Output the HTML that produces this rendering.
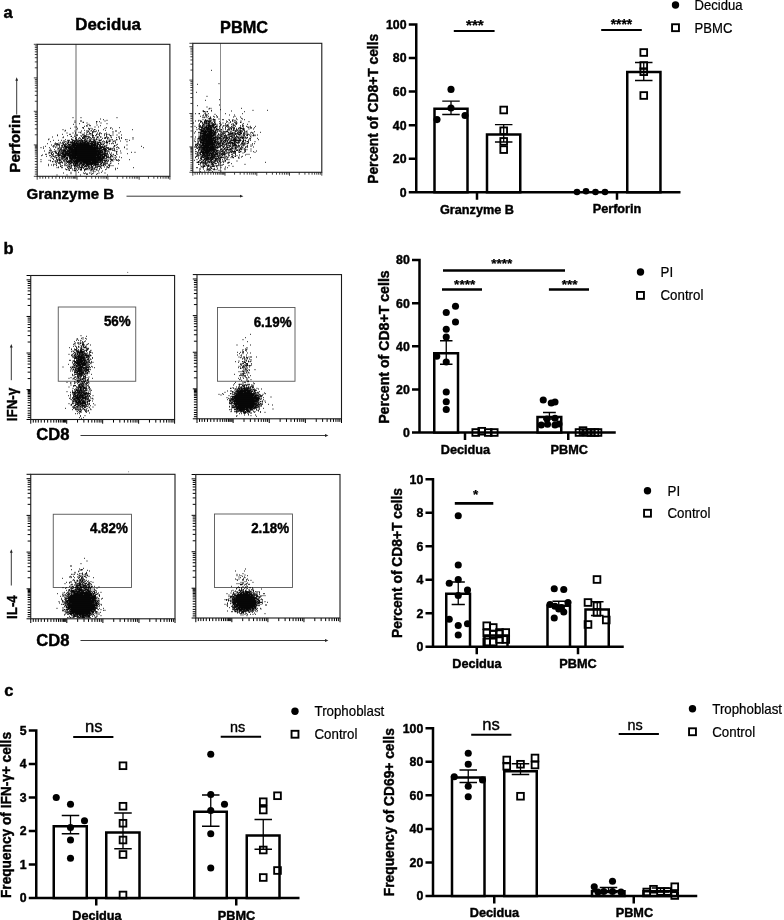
<!DOCTYPE html>
<html lang="en"><head><meta charset="utf-8"><title>Figure</title>
<style>html,body{margin:0;padding:0;background:#fff}svg{display:block}text{stroke:#000;stroke-width:.22px}text[font-weight="700"]{stroke-width:.42px}</style>
</head><body>
<svg width="784" height="920" viewBox="0 0 784 920" font-family='"Liberation Sans", sans-serif' fill="#000">
<rect width="784" height="920" fill="#fff"/>
<text x="3.6" y="17.6" font-size="16.5" font-weight="700">a</text>
<text x="3.6" y="253.8" font-size="16.5" font-weight="700">b</text>
<text x="4.2" y="695.8" font-size="16.5" font-weight="700">c</text>
<text x="108.1" y="30.2" font-size="16.9" font-weight="700" text-anchor="middle">Decidua</text>
<text x="244" y="33" font-size="16.3" font-weight="700" text-anchor="middle">PBMC</text>
<path d="M37.2 176.3v3.4M39.99 176.3v2.4M42.77 176.3v2.4M45.56 176.3v2.4M48.74 176.3v2.4M52.32 176.3v2.4M55.91 176.3v2.4M59.49 176.3v2.4M62.67 176.3v2.4M65.46 176.3v2.4M67.85 176.3v2.4M69.84 176.3v2.4M71.83 176.3v2.4M73.42 176.3v2.4M74.61 176.3v2.4M75.81 176.3v2.4M77 176.3v3.4M86.3 176.3v2.4M91.74 176.3v2.4M95.6 176.3v2.4M98.6 176.3v2.4M101.04 176.3v2.4M103.11 176.3v2.4M104.91 176.3v2.4M106.49 176.3v2.4M107.9 176.3v3.4M117.32 176.3v2.4M122.83 176.3v2.4M126.74 176.3v2.4M129.78 176.3v2.4M132.26 176.3v2.4M134.35 176.3v2.4M136.17 176.3v2.4M137.77 176.3v2.4M139.2 176.3v3.4M148.44 176.3v2.4M153.85 176.3v2.4M157.68 176.3v2.4M160.66 176.3v2.4M163.09 176.3v2.4M165.14 176.3v2.4M166.92 176.3v2.4M168.5 176.3v2.4M37.2 176.3h-3.4M37.2 174.1h-2.4M37.2 171.9h-2.4M37.2 169.71h-2.4M37.2 167.19h-2.4M37.2 164.37h-2.4M37.2 161.54h-2.4M37.2 158.72h-2.4M37.2 156.2h-2.4M37.2 154.01h-2.4M37.2 152.12h-2.4M37.2 150.55h-2.4M37.2 148.98h-2.4M37.2 147.73h-2.4M37.2 146.78h-2.4M37.2 145.84h-2.4M37.2 144.9h-3.4M37.2 134.79h-2.4M37.2 128.87h-2.4M37.2 124.67h-2.4M37.2 121.41h-2.4M37.2 118.75h-2.4M37.2 116.5h-2.4M37.2 114.56h-2.4M37.2 112.84h-2.4M37.2 111.3h-3.4M37.2 101.25h-2.4M37.2 95.36h-2.4M37.2 91.19h-2.4M37.2 87.95h-2.4M37.2 85.31h-2.4M37.2 83.07h-2.4M37.2 81.14h-2.4M37.2 79.43h-2.4M37.2 77.9h-3.4M37.2 67.82h-2.4M37.2 61.92h-2.4M37.2 57.73h-2.4M37.2 54.48h-2.4M37.2 51.83h-2.4M37.2 49.59h-2.4M37.2 47.65h-2.4M37.2 45.93h-2.4M169.9 176.3v3.4M37.2 44.3h-3.4" stroke="#000" stroke-width="0.75" fill="none"/>
<path d="M76 44.3V176.3" stroke="#8a8a8a" stroke-width="1.3"/>
<path id="p1" transform="scale(0.666667)" d="M109 176.5h1m11 0h1m53 0h1m-26 2h1m4 1h1m4 1h1m-49 1h1m7 0h1m1 0h1m34 0h1m-14 1h2m3 0h1m-38 1h1m11 0h2m4 1h1m13 0h1m6 0h1m-33 1h1m40 0h1m-51 1h1m22 0h1m-3 1h1m13 0h1m-17 1h1m4 0h2m14 0h1m-25 1h1m3 0h1m-19 1h1m1 0h1m27 0h1m4 0h1m-25 1h1m1 0h1m33 0h1m6 0h1m12 0h1m-75 1h1m10 0h1m8 0h1m6 0h1m3 0h1m20 0h1m7 0h1m-33 1h2m3 0h1m29 0h1m-75 1h1m20 0h1m18 0h1m6 0h2m12 0h1m42 0h1m-101 1h1m27 0h1m10 0h1m2 0h1m6 0h1m10 0h1m-62 1h1m14 0h1m9 0h1m6 0h1m1 0h2m3 0h1m7 0h1m2 0h1m25 0h2m-43 1h1m5 0h1m1 0h2m1 0h1m25 0h1m10 0h1m-68 1h1m4 0h1m1 0h1m10 0h1m2 0h1m3 0h2m-40 1h1m8 0h1m11 0h1m4 0h1m2 0h1m16 0h1m2 0h2m8 0h1m9 0h1m8 0h1m-66 1h1m20 0h3m1 0h1m10 0h1m2 0h1m4 0h1m-65 1h1m10 0h2m17 0h1m1 0h1m4 0h1m2 0h1m4 0h1m5 0h2m2 0h1m7 0h1m2 0h2m2 0h1m-78 1h1m25 0h1m1 0h1m1 0h1m9 0h1m2 0h1m6 0h1m1 0h1m5 0h1m4 0h1m14 0h1m4 0h1m5 0h1m6 0h1m-97 1h1m14 0h1m13 0h1m5 0h1m2 0h1m1 0h1m1 0h1m9 0h3m2 0h1m5 0h1m6 0h1m2 0h1m5 0h2m-61 1h2m3 0h1m10 0h1m2 0h2m1 0h2m1 0h2m6 0h1m19 0h1m-82 1h1m16 0h1m17 0h1m11 0h5m3 0h2m3 0h1m6 0h3m2 0h2m8 0h1m5 0h1m10 0h1m1 0h1m-86 1h1m14 0h1m4 0h1m4 0h1m3 0h2m1 0h1m5 0h1m2 0h1m2 0h1m1 0h2m4 0h1m10 0h2m1 0h1m1 0h1m4 0h1m6 0h1m7 0h1m16 0h1m-87 1h1m4 0h1m1 0h1m2 0h3m4 0h2m1 0h1m2 0h1m7 0h1m8 0h1m2 0h1m1 0h1m2 0h1m17 0h1m2 0h1m-110 1h1m33 0h1m5 0h2m2 0h1m8 0h3m8 0h1m2 0h2m6 0h1m12 0h1m1 0h1m15 0h1m19 0h1m-128 1h1m25 0h1m8 0h2m5 0h2m5 0h2m5 0h1m1 0h1m3 0h2m3 0h1m2 0h1m1 0h2m6 0h1m13 0h1m1 0h1m5 0h2m12 0h1m1 0h1m-111 1h1m6 0h1m4 0h1m8 0h2m1 0h1m4 0h2m1 0h1m2 0h1m2 0h3m1 0h3m1 0h2m2 0h1m2 0h1m1 0h1m4 0h3m5 0h4m12 0h1m29 0h1m-100 1h2m5 0h2m4 0h2m1 0h10m1 0h3m1 0h1m1 0h3m3 0h3m4 0h2m6 0h1m5 0h1m3 0h2m2 0h1m1 0h1m3 0h1m1 0h1m1 0h1m6 0h1m-106 1h1m22 0h1m1 0h1m1 0h1m3 0h1m1 0h1m2 0h2m3 0h2m2 0h1m1 0h3m2 0h4m2 0h2m1 0h5m1 0h2m1 0h1m7 0h1m2 0h1m2 0h1m3 0h2m5 0h1m19 0h1m-101 1h1m2 0h1m2 0h1m5 0h2m1 0h8m1 0h2m2 0h1m1 0h2m1 0h6m1 0h3m4 0h1m1 0h5m2 0h6m5 0h1m1 0h3m11 0h1m-91 1h1m4 0h1m5 0h2m4 0h3m4 0h1m1 0h1m1 0h2m1 0h9m1 0h1m1 0h2m1 0h1m1 0h5m1 0h3m2 0h1m1 0h1m1 0h1m7 0h1m4 0h1m1 0h1m6 0h1m4 0h1m-103 1h1m10 0h1m1 0h1m1 0h1m4 0h1m2 0h1m3 0h1m2 0h1m4 0h1m1 0h10m1 0h15m1 0h5m1 0h3m1 0h3m2 0h2m4 0h1m7 0h1m2 0h1m2 0h1m-88 1h2m1 0h2m1 0h1m4 0h2m1 0h1m1 0h1m2 0h4m2 0h6m1 0h19m2 0h8m2 0h3m2 0h2m1 0h2m20 0h1m-100 1h1m3 0h1m4 0h2m8 0h3m1 0h1m1 0h33m1 0h2m1 0h8m1 0h3m3 0h1m5 0h1m13 0h1m15 0h1m-111 1h1m3 0h1m4 0h1m2 0h3m1 0h2m3 0h1m2 0h1m2 0h37m1 0h2m2 0h2m6 0h1m1 0h1m11 0h2m-105 1h1m10 0h1m2 0h1m6 0h1m6 0h5m1 0h1m1 0h9m1 0h26m1 0h2m1 0h3m2 0h3m1 0h2m1 0h2m13 0h1m40 0h1m-148 1h1m14 0h1m4 0h1m6 0h3m1 0h11m2 0h36m1 0h2m1 0h1m1 0h2m1 0h1m1 0h2m1 0h1m10 0h1m5 0h1m9 0h1m-126 1h1m12 0h1m8 0h1m5 0h1m1 0h1m3 0h1m2 0h49m1 0h1m1 0h6m3 0h1m1 0h2m11 0h1m2 0h1m8 0h1m28 0h1m-151 1h1m21 0h2m3 0h1m4 0h3m2 0h8m1 0h41m3 0h4m2 0h1m1 0h1m1 0h2m2 0h1m1 0h1m6 0h1m-104 1h1m10 0h1m3 0h2m3 0h2m2 0h2m1 0h1m1 0h44m1 0h4m2 0h3m1 0h1m2 0h2m2 0h1m1 0h1m21 0h1m-110 1h1m6 0h1m1 0h1m1 0h1m1 0h1m1 0h1m1 0h1m1 0h1m2 0h42m1 0h1m1 0h2m3 0h7m3 0h4m4 0h1m3 0h1m-102 1h2m1 0h1m10 0h2m1 0h1m2 0h5m1 0h53m1 0h1m1 0h3m9 0h1m1 0h2m-106 1h1m16 0h1m1 0h1m5 0h8m2 0h2m1 0h1m1 0h43m1 0h4m2 0h7m9 0h1m7 0h1m-105 1h1m2 0h1m1 0h1m1 0h1m4 0h2m1 0h1m3 0h2m1 0h54m1 0h2m2 0h2m4 0h1m10 0h2m-103 1h2m3 0h1m4 0h2m2 0h2m4 0h3m1 0h3m1 0h1m1 0h52m1 0h2m16 0h1m22 0h1m4 0h1m-127 1h2m5 0h2m2 0h2m1 0h4m2 0h1m1 0h48m1 0h6m1 0h1m3 0h1m1 0h2m2 0h1m2 0h1m13 0h1m-109 1h1m3 0h1m2 0h1m3 0h1m1 0h3m3 0h4m1 0h9m1 0h44m2 0h1m1 0h5m1 0h1m12 0h1m16 0h1m-124 1h2m7 0h1m1 0h1m6 0h3m1 0h1m2 0h7m1 0h57m1 0h1m1 0h1m3 0h2m3 0h1m4 0h1m-113 1h1m14 0h2m8 0h2m1 0h1m3 0h9m1 0h47m1 0h2m1 0h3m3 0h1m6 0h1m-108 1h1m11 0h2m7 0h2m1 0h5m1 0h2m1 0h4m1 0h49m1 0h4m2 0h5m5 0h2m4 0h2m-105 1h1m7 0h1m1 0h2m1 0h1m4 0h1m4 0h7m1 0h1m2 0h11m1 0h29m1 0h7m1 0h5m1 0h2m1 0h1m2 0h2m1 0h1m-87 1h1m5 0h1m3 0h6m5 0h4m1 0h45m1 0h3m2 0h1m1 0h2m3 0h1m2 0h1m4 0h1m4 0h1m-104 1h1m5 0h1m1 0h2m3 0h1m1 0h1m2 0h1m1 0h2m1 0h3m2 0h48m1 0h4m2 0h1m1 0h2m1 0h2m6 0h1m9 0h1m-105 1h1m5 0h1m3 0h1m3 0h2m1 0h1m1 0h1m1 0h3m2 0h53m1 0h2m13 0h1m-94 1h1m7 0h1m2 0h1m1 0h1m4 0h4m2 0h5m1 0h4m1 0h30m1 0h5m1 0h2m9 0h1m1 0h2m3 0h1m-110 1h1m18 0h1m3 0h1m1 0h1m1 0h2m1 0h1m2 0h1m1 0h1m1 0h1m2 0h1m4 0h4m1 0h1m2 0h41m2 0h1m2 0h1m5 0h3m3 0h1m1 0h1m2 0h1m16 0h1m-122 1h1m1 0h1m10 0h1m1 0h3m4 0h1m1 0h1m1 0h1m3 0h5m1 0h2m1 0h42m1 0h3m1 0h2m1 0h1m4 0h2m5 0h1m1 0h1m2 0h1m-105 1h1m6 0h2m1 0h2m2 0h1m1 0h1m3 0h2m2 0h2m1 0h1m2 0h1m2 0h37m1 0h2m2 0h2m1 0h1m2 0h4m2 0h1m3 0h1m2 0h1m7 0h1m-117 1h1m16 0h2m5 0h1m6 0h1m4 0h1m2 0h8m2 0h11m1 0h15m1 0h10m1 0h2m1 0h2m4 0h1m2 0h1m3 0h1m-83 1h1m1 0h1m3 0h2m1 0h2m3 0h1m2 0h2m1 0h2m1 0h4m1 0h2m1 0h4m2 0h3m1 0h27m2 0h2m2 0h1m2 0h1m-74 1h2m1 0h1m2 0h1m8 0h4m1 0h1m2 0h7m1 0h3m1 0h11m1 0h13m4 0h2m1 0h1m1 0h2m8 0h1m-83 1h1m4 0h1m7 0h1m1 0h1m5 0h2m2 0h2m1 0h5m1 0h1m1 0h3m2 0h2m1 0h16m1 0h1m1 0h1m3 0h2m2 0h1m2 0h2m1 0h1m3 0h1m11 0h1m-106 1h1m7 0h1m1 0h1m7 0h1m6 0h1m6 0h1m1 0h1m3 0h1m1 0h3m1 0h1m2 0h1m1 0h1m1 0h5m1 0h11m1 0h8m1 0h2m3 0h2m7 0h1m-88 1h1m6 0h1m12 0h1m3 0h2m1 0h1m5 0h2m1 0h1m2 0h4m1 0h1m1 0h3m3 0h4m1 0h1m1 0h2m2 0h2m1 0h4m7 0h2m1 0h2m3 0h1m-91 1h1m7 0h1m3 0h1m6 0h1m1 0h1m3 0h1m1 0h1m6 0h2m1 0h1m1 0h4m1 0h1m1 0h1m3 0h1m1 0h2m1 0h2m1 0h3m3 0h2m2 0h1m1 0h2m4 0h1m2 0h2m1 0h2m7 0h2m1 0h1m2 0h1m-80 1h2m10 0h1m1 0h1m2 0h1m3 0h2m1 0h1m1 0h1m1 0h2m2 0h2m2 0h5m1 0h1m1 0h1m2 0h2m4 0h1m2 0h5m9 0h1m3 0h1m-78 1h1m13 0h1m1 0h3m15 0h1m1 0h1m2 0h1m2 0h1m2 0h2m2 0h4m4 0h2m5 0h1m4 0h1m4 0h1m-77 1h1m1 0h1m4 0h2m7 0h1m5 0h1m4 0h1m3 0h2m1 0h5m1 0h1m7 0h1m2 0h1m1 0h1m3 0h2m2 0h1m3 0h1m9 0h1m1 0h2m36 0h1m-99 1h1m2 0h2m4 0h2m9 0h1m2 0h1m2 0h1m1 0h2m1 0h2m1 0h1m2 0h1m1 0h1m7 0h1m2 0h1m20 0h1m2 0h1m-79 1h1m3 0h1m1 0h1m3 0h1m2 0h1m2 0h1m2 0h2m2 0h2m4 0h1m1 0h2m6 0h3m1 0h1m3 0h1m13 0h1m-61 1h2m19 0h3m3 0h3m1 0h1m2 0h1m2 0h2m1 0h1m2 0h1m1 0h1m4 0h1m8 0h1m14 0h1m-71 1h2m4 0h1m1 0h3m2 0h1m4 0h1m4 0h1m9 0h1m8 0h1m-34 1h1m13 0h1m9 0h1m2 0h2m6 0h1m5 0h1m-12 1h1m-37 1h1m10 0h1m34 0h1m-58 1h1m29 0h1m2 0h1m5 0h1m1 0h1m3 0h1m7 0h1m8 0h1m-52 1h1m19 0h1m3 0h1m7 0h1m7 0h1m-18 1h1m1 0h1m5 0h1m6 0h1m-60 1h1m14 0h1m19 0h1m40 0h1" stroke="#000" stroke-width="1.2" fill="none"/><use href="#p1"/>
<rect x="37.2" y="44.3" width="132.7" height="132" fill="none" stroke="#1a1a1a" stroke-width="1.1"/>
<path d="M192.8 172.3v3.4M195.05 172.3v2.4M197.31 172.3v2.4M199.56 172.3v2.4M202.14 172.3v2.4M205.04 172.3v2.4M207.93 172.3v2.4M210.83 172.3v2.4M213.41 172.3v2.4M215.66 172.3v2.4M217.59 172.3v2.4M219.2 172.3v2.4M220.81 172.3v2.4M222.1 172.3v2.4M223.07 172.3v2.4M224.03 172.3v2.4M225 172.3v3.4M234.57 172.3v2.4M240.17 172.3v2.4M244.15 172.3v2.4M247.23 172.3v2.4M249.75 172.3v2.4M251.87 172.3v2.4M253.72 172.3v2.4M255.34 172.3v2.4M256.8 172.3v3.4M266.64 172.3v2.4M272.4 172.3v2.4M276.49 172.3v2.4M279.66 172.3v2.4M282.25 172.3v2.4M284.43 172.3v2.4M286.33 172.3v2.4M288 172.3v2.4M289.5 172.3v3.4M299.22 172.3v2.4M304.91 172.3v2.4M308.95 172.3v2.4M312.08 172.3v2.4M314.63 172.3v2.4M316.8 172.3v2.4M318.67 172.3v2.4M320.32 172.3v2.4M192.8 172.3h-3.4M192.8 170.52h-2.4M192.8 168.74h-2.4M192.8 166.97h-2.4M192.8 164.93h-2.4M192.8 162.65h-2.4M192.8 160.36h-2.4M192.8 158.08h-2.4M192.8 156.04h-2.4M192.8 154.27h-2.4M192.8 152.74h-2.4M192.8 151.47h-2.4M192.8 150.2h-2.4M192.8 149.19h-2.4M192.8 148.42h-2.4M192.8 147.66h-2.4M192.8 146.9h-3.4M192.8 136.85h-2.4M192.8 130.96h-2.4M192.8 126.79h-2.4M192.8 123.55h-2.4M192.8 120.91h-2.4M192.8 118.67h-2.4M192.8 116.74h-2.4M192.8 115.03h-2.4M192.8 113.5h-3.4M192.8 103.45h-2.4M192.8 97.56h-2.4M192.8 93.39h-2.4M192.8 90.15h-2.4M192.8 87.51h-2.4M192.8 85.27h-2.4M192.8 83.34h-2.4M192.8 81.63h-2.4M192.8 80.1h-3.4M192.8 70.05h-2.4M192.8 64.16h-2.4M192.8 59.99h-2.4M192.8 56.75h-2.4M192.8 54.11h-2.4M192.8 51.87h-2.4M192.8 49.94h-2.4M192.8 48.23h-2.4M192.8 46.7h-3.4M321.8 172.3v3.4M192.8 43.3h-3.4" stroke="#000" stroke-width="0.75" fill="none"/>
<path d="M220.5 43.3V172.3" stroke="#8c8c8c" stroke-width="1.0"/>
<path id="p2" transform="scale(0.666667)" d="M317 105.5h1m10 20h1m-33 1h1m-3 12h1m15 6h1m18 5h1m-22 1h1m20 7h1m-34 1h1m13 2h1m3 2h1m1 0h1m45 0h1m-50 1h1m16 1h1m-14 1h1m61 0h1m21 0h1m-98 1h2m11 0h1m29 0h1m-43 1h3m2 0h2m54 0h1m-59 2h1m-16 1h1m4 0h2m7 0h1m4 0h1m25 0h1m24 0h1m-56 1h1m1 0h1m11 0h1m-18 1h1m3 0h1m34 0h1m6 0h1m-48 1h1m3 0h1m1 0h1m13 0h1m-25 1h1m8 0h1m2 0h1m7 0h1m31 0h1m-49 1h1m2 0h1m7 0h1m5 0h1m3 0h2m23 0h1m9 0h1m-57 1h1m1 0h1m3 0h1m4 0h1m-3 1h4m37 0h1m7 0h1m-50 1h2m5 0h1m7 0h1m34 0h1m-60 1h1m3 0h1m7 0h1m2 0h4m10 0h1m1 0h1m7 0h1m5 0h1m5 0h1m10 0h1m-69 1h1m8 0h3m1 0h1m2 0h1m1 0h1m5 0h1m21 0h1m3 0h1m3 0h1m-60 1h1m3 0h1m2 0h2m5 0h3m1 0h3m1 0h2m3 0h2m17 0h1m8 0h2m2 0h1m8 0h1m-61 1h2m3 0h2m1 0h2m1 0h4m6 0h1m6 0h1m11 0h1m3 0h1m8 0h1m18 0h1m-74 1h1m2 0h1m2 0h2m1 0h1m4 0h1m2 0h2m2 0h2m16 0h1m5 0h1m5 0h1m1 0h1m6 0h2m-72 1h1m13 0h1m1 0h4m1 0h5m5 0h1m8 0h1m3 0h1m8 0h1m10 0h2m-57 1h1m3 0h1m3 0h1m1 0h2m1 0h2m3 0h2m1 0h1m2 0h1m5 0h1m8 0h1m10 0h1m3 0h2m10 0h1m-62 1h2m1 0h1m2 0h1m1 0h1m1 0h1m1 0h1m1 0h6m1 0h1m5 0h1m15 0h1m2 0h1m3 0h1m8 0h1m7 0h1m-74 1h2m5 0h2m3 0h1m1 0h3m3 0h1m1 0h1m10 0h1m6 0h1m1 0h3m6 0h1m2 0h1m-53 1h1m2 0h2m2 0h1m1 0h1m1 0h11m3 0h1m4 0h1m4 0h1m1 0h1m2 0h2m8 0h2m8 0h1m2 0h1m1 0h1m-74 1h1m5 0h3m2 0h1m1 0h1m3 0h2m1 0h5m1 0h1m1 0h1m2 0h3m3 0h1m4 0h1m4 0h1m2 0h1m4 0h1m1 0h1m3 0h1m9 0h1m5 0h1m5 0h1m7 0h1m-84 1h1m1 0h2m2 0h5m1 0h9m1 0h2m1 0h1m3 0h1m8 0h1m2 0h1m1 0h1m3 0h1m12 0h1m4 0h1m5 0h1m1 0h1m-80 1h1m4 0h1m1 0h4m2 0h7m1 0h3m2 0h4m9 0h1m4 0h1m4 0h1m1 0h1m2 0h1m1 0h2m7 0h2m11 0h1m2 0h1m1 0h1m3 0h1m-84 1h1m3 0h1m1 0h4m1 0h7m1 0h1m3 0h1m2 0h2m3 0h1m8 0h1m7 0h2m2 0h2m2 0h1m2 0h2m1 0h4m1 0h1m10 0h1m-79 1h1m4 0h2m1 0h1m1 0h1m1 0h3m1 0h5m1 0h2m12 0h1m7 0h3m1 0h2m2 0h2m8 0h1m3 0h3m6 0h1m6 0h1m-86 1h1m3 0h4m2 0h3m1 0h9m4 0h1m1 0h5m2 0h2m5 0h1m2 0h1m1 0h1m3 0h1m2 0h1m3 0h2m2 0h1m5 0h2m-65 1h5m1 0h2m1 0h3m1 0h7m2 0h1m1 0h1m17 0h1m5 0h2m1 0h1m3 0h1m1 0h1m1 0h2m2 0h1m1 0h1m-66 1h10m1 0h7m1 0h1m1 0h2m1 0h1m2 0h2m1 0h1m2 0h1m5 0h2m4 0h1m5 0h4m3 0h1m2 0h1m3 0h1m3 0h1m-78 1h1m7 0h17m1 0h3m1 0h1m2 0h1m4 0h1m3 0h2m1 0h4m4 0h1m6 0h1m3 0h1m2 0h2m1 0h1m3 0h1m1 0h1m11 0h1m-85 1h1m1 0h2m1 0h1m2 0h6m1 0h8m1 0h3m1 0h1m6 0h1m4 0h1m4 0h2m1 0h1m3 0h1m2 0h1m3 0h1m1 0h4m4 0h1m3 0h1m6 0h1m12 0h1m-100 1h1m6 0h1m1 0h2m1 0h7m1 0h1m1 0h12m8 0h3m1 0h1m4 0h1m4 0h3m1 0h1m4 0h2m4 0h1m2 0h1m1 0h1m7 0h1m2 0h2m-80 1h9m1 0h9m1 0h3m4 0h1m3 0h1m2 0h1m1 0h1m7 0h6m2 0h3m1 0h1m1 0h1m1 0h3m2 0h2m3 0h1m-70 1h1m2 0h14m1 0h5m3 0h2m3 0h1m1 0h1m3 0h1m3 0h4m3 0h1m2 0h2m1 0h1m1 0h4m4 0h1m1 0h1m3 0h2m7 0h1m-83 1h1m1 0h2m1 0h1m1 0h17m3 0h1m2 0h1m1 0h1m1 0h2m1 0h1m5 0h1m1 0h1m2 0h3m1 0h2m6 0h2m4 0h1m1 0h1m2 0h1m1 0h1m2 0h1m1 0h1m5 0h1m3 0h1m-87 1h1m1 0h20m1 0h1m2 0h1m1 0h1m2 0h1m4 0h4m3 0h1m5 0h1m1 0h1m2 0h1m6 0h1m3 0h2m3 0h2m7 0h2m1 0h1m-84 1h2m1 0h18m3 0h1m1 0h1m5 0h2m1 0h1m1 0h1m2 0h1m3 0h1m1 0h4m2 0h1m2 0h2m8 0h1m10 0h1m-83 1h1m3 0h1m2 0h4m1 0h3m1 0h10m1 0h2m1 0h2m1 0h3m2 0h1m1 0h1m3 0h4m3 0h1m2 0h1m2 0h1m1 0h1m2 0h3m1 0h1m1 0h2m1 0h1m1 0h1m1 0h1m7 0h1m-78 1h3m1 0h15m1 0h6m1 0h1m1 0h3m4 0h3m1 0h1m1 0h2m1 0h1m3 0h2m2 0h2m1 0h1m1 0h1m2 0h2m1 0h3m2 0h1m1 0h2m-75 1h5m1 0h20m2 0h2m1 0h3m1 0h1m1 0h2m1 0h1m1 0h3m1 0h2m2 0h1m3 0h2m4 0h1m1 0h1m1 0h1m1 0h2m2 0h1m1 0h1m4 0h2m10 0h1m-95 1h1m3 0h2m3 0h3m1 0h6m1 0h9m1 0h2m1 0h3m3 0h1m2 0h1m3 0h1m1 0h1m4 0h1m3 0h2m1 0h4m2 0h1m6 0h1m9 0h1m-77 1h20m1 0h1m1 0h3m1 0h1m1 0h1m2 0h1m2 0h1m3 0h2m2 0h2m3 0h1m2 0h4m5 0h2m4 0h1m7 0h1m13 0h1m-90 1h1m2 0h23m2 0h1m4 0h3m2 0h4m1 0h1m1 0h1m2 0h16m2 0h2m1 0h2m3 0h1m2 0h1m-85 1h1m4 0h1m2 0h8m1 0h12m1 0h2m1 0h1m3 0h1m1 0h1m4 0h1m2 0h1m2 0h1m3 0h2m3 0h1m1 0h1m2 0h1m2 0h3m4 0h1m2 0h1m-76 1h1m3 0h1m2 0h2m2 0h16m1 0h4m1 0h2m3 0h2m1 0h2m1 0h2m1 0h2m2 0h2m5 0h3m3 0h1m5 0h3m4 0h3m9 0h1m-86 1h1m2 0h7m1 0h16m1 0h2m1 0h1m2 0h1m4 0h2m2 0h1m2 0h2m1 0h4m1 0h1m2 0h2m1 0h1m1 0h1m3 0h1m8 0h1m-77 1h1m3 0h20m1 0h4m1 0h2m1 0h3m1 0h3m5 0h3m1 0h5m1 0h3m1 0h4m3 0h1m2 0h2m1 0h1m3 0h1m-77 1h2m5 0h18m1 0h1m1 0h1m1 0h4m1 0h1m1 0h2m2 0h1m1 0h2m1 0h1m1 0h2m2 0h4m10 0h3m1 0h1m3 0h2m6 0h1m2 0h1m-89 1h3m2 0h2m1 0h1m1 0h3m1 0h16m1 0h1m1 0h3m4 0h1m1 0h1m2 0h3m8 0h1m1 0h3m7 0h1m2 0h1m2 0h1m-75 1h1m2 0h1m1 0h1m1 0h2m1 0h20m1 0h1m2 0h1m1 0h3m1 0h2m1 0h2m4 0h1m2 0h2m1 0h2m1 0h4m2 0h1m3 0h1m2 0h3m9 0h1m1 0h1m-86 1h1m1 0h2m2 0h1m1 0h15m1 0h3m1 0h1m1 0h3m2 0h1m2 0h2m6 0h1m1 0h1m1 0h2m4 0h3m1 0h3m1 0h1m1 0h1m4 0h1m6 0h1m-78 1h1m5 0h3m2 0h9m1 0h7m1 0h1m2 0h1m2 0h2m2 0h1m1 0h2m2 0h1m5 0h2m2 0h1m2 0h1m4 0h1m1 0h1m2 0h1m7 0h1m5 0h1m-86 1h1m1 0h2m2 0h3m3 0h22m1 0h5m4 0h1m3 0h1m1 0h1m1 0h2m3 0h2m3 0h4m5 0h1m1 0h1m3 0h1m1 0h2m8 0h1m-86 1h1m2 0h24m1 0h5m6 0h2m2 0h1m1 0h3m4 0h1m4 0h2m4 0h1m2 0h1m1 0h1m4 0h1m-74 1h2m2 0h1m2 0h20m1 0h1m2 0h1m9 0h2m2 0h1m5 0h1m1 0h2m2 0h3m5 0h2m-64 1h1m1 0h2m2 0h4m1 0h3m1 0h10m1 0h1m6 0h3m2 0h2m3 0h1m2 0h4m1 0h1m3 0h1m4 0h1m3 0h1m1 0h1m1 0h2m8 0h1m-84 1h1m4 0h2m2 0h22m6 0h1m1 0h1m2 0h1m1 0h1m1 0h4m1 0h3m5 0h1m2 0h1m3 0h2m1 0h1m5 0h1m1 0h1m-74 1h2m2 0h3m1 0h17m1 0h5m3 0h1m1 0h1m4 0h2m3 0h1m3 0h2m5 0h3m1 0h2m7 0h1m-67 1h2m1 0h13m1 0h1m1 0h3m1 0h1m1 0h1m2 0h1m3 0h3m2 0h1m4 0h1m1 0h1m5 0h2m13 0h1m1 0h1m7 0h1m7 0h1m-92 1h2m2 0h1m3 0h5m1 0h8m1 0h2m1 0h4m1 0h2m2 0h1m2 0h3m2 0h1m2 0h1m5 0h1m1 0h7m4 0h1m1 0h2m6 0h1m11 0h1m-85 1h1m2 0h15m1 0h1m2 0h3m1 0h2m2 0h1m1 0h1m6 0h3m3 0h2m1 0h1m1 0h2m5 0h1m4 0h2m6 0h1m15 0h1m-87 1h2m2 0h1m2 0h15m1 0h1m1 0h1m1 0h3m1 0h1m1 0h2m2 0h2m1 0h1m2 0h1m4 0h1m4 0h4m11 0h1m-72 1h1m1 0h1m3 0h2m2 0h4m1 0h5m1 0h7m2 0h4m2 0h1m2 0h2m1 0h2m1 0h1m1 0h1m1 0h1m10 0h1m-58 1h1m3 0h2m2 0h4m1 0h3m1 0h2m1 0h3m1 0h7m1 0h1m2 0h2m1 0h4m9 0h2m4 0h1m16 0h1m2 0h1m-79 1h1m1 0h2m1 0h1m1 0h2m1 0h4m2 0h4m1 0h6m1 0h1m2 0h1m2 0h1m3 0h2m1 0h2m4 0h2m9 0h1m5 0h1m8 0h1m-73 1h1m1 0h1m4 0h4m1 0h8m1 0h3m1 0h2m2 0h1m1 0h1m1 0h1m1 0h1m1 0h1m10 0h1m4 0h1m5 0h1m-62 1h2m6 0h2m2 0h6m4 0h8m1 0h2m1 0h1m8 0h1m1 0h1m7 0h2m3 0h2m9 0h1m-71 1h1m3 0h1m2 0h1m1 0h4m1 0h1m3 0h4m1 0h2m1 0h1m4 0h1m2 0h2m2 0h2m1 0h1m2 0h1m2 0h1m1 0h1m5 0h1m9 0h1m3 0h1m-70 1h1m8 0h1m1 0h3m1 0h6m1 0h8m4 0h2m1 0h4m1 0h1m1 0h1m3 0h1m4 0h1m2 0h2m6 0h1m17 0h1m-79 1h1m2 0h3m4 0h7m1 0h2m1 0h1m1 0h1m1 0h5m2 0h1m7 0h1m20 0h1m-53 1h4m1 0h9m2 0h2m2 0h5m5 0h1m2 0h1m1 0h1m-47 1h1m5 0h2m1 0h1m1 0h2m1 0h4m1 0h1m1 0h4m3 0h3m4 0h1m2 0h1m6 0h1m2 0h1m-53 1h1m7 0h2m3 0h2m2 0h2m5 0h1m1 0h1m4 0h2m1 0h1m2 0h1m8 0h2m-34 1h1m1 0h2m1 0h4m1 0h3m2 0h5m1 0h1m1 0h3m3 0h1m3 0h1m16 0h1m-59 1h2m3 0h2m3 0h2m3 0h1m1 0h1m1 0h1m1 0h1m3 0h1m3 0h1m2 0h1m4 0h1m2 0h1m-43 1h4m2 0h3m1 0h2m1 0h1m2 0h1m1 0h2m1 0h2m1 0h3m4 0h1m4 0h1m3 0h1m6 0h1m1 0h1m53 0h1m-99 1h2m2 0h2m1 0h4m2 0h1m2 0h3m3 0h1m4 0h2m1 0h1m10 0h2m-43 1h1m3 0h1m1 0h1m1 0h1m1 0h1m7 0h2m2 0h3m22 0h1m-51 1h2m9 0h2m7 0h4m7 0h1m6 0h1m31 0h1m-68 1h1m3 0h2m1 0h1m2 0h1m1 0h2m2 0h1m10 0h1m3 0h1m1 0h1m-28 1h1m2 0h1m1 0h3m4 0h1m1 0h1m1 0h1m1 0h1m1 0h1m1 0h1m2 0h1m11 0h1m-42 1h1m1 0h4m3 0h3m2 0h1m1 0h4m2 0h1m24 0h1m-49 1h1m2 0h2m9 0h1m1 0h1m7 0h1m12 0h1m-45 1h1m1 0h1m7 0h1m6 0h1m3 0h1m15 0h1m9 0h1m-28 1h1m1 0h2m3 0h1m4 0h1m10 0h1m-39 1h2m4 0h1m4 0h3m6 0h1m-9 1h2m1 0h2m4 0h3m2 0h1m11 0h1m-28 1h1m3 0h1m1 0h1m11 0h1m-30 1h1m6 0h1m5 0h1m18 0h1m-32 1h1m17 0h1" stroke="#000" stroke-width="1.2" fill="none"/><use href="#p2"/>
<rect x="192.8" y="43.3" width="129" height="129" fill="none" stroke="#1a1a1a" stroke-width="1.1"/>
<text x="19.7" y="172.7" font-size="15.2" font-weight="700" transform="rotate(-90 19.7 172.7)">Perforin</text>
<path d="M16.7 114.5V79" stroke="#222" stroke-width=".9"/><path d="M15.3 80.8L16.7 77.2L18.1 80.8Z" fill="#222"/>
<text x="26.6" y="198.6" font-size="15" font-weight="700">Granzyme B</text>
<path d="M126.5 196.2H241" stroke="#222" stroke-width=".9"/><path d="M240 194.8L243.4 196.2L240 197.6Z" fill="#222"/>
<path d="M416.25 23.15V193.5M415 192.25H680.5M408.75 192.25H416.25M408.75 158.69H416.25M408.75 125.13H416.25M408.75 91.57H416.25M408.75 58.01H416.25M408.75 24.45H416.25M477 192.25V199.75M617 192.25V199.75" stroke="#000" stroke-width="2.5" fill="none"/>
<text x="406.55" y="196.65" font-size="12.3" font-weight="700" text-anchor="end">0</text>
<text x="406.55" y="163.09" font-size="12.3" font-weight="700" text-anchor="end">20</text>
<text x="406.55" y="129.53" font-size="12.3" font-weight="700" text-anchor="end">40</text>
<text x="406.55" y="95.97" font-size="12.3" font-weight="700" text-anchor="end">60</text>
<text x="406.55" y="62.41" font-size="12.3" font-weight="700" text-anchor="end">80</text>
<text x="406.55" y="28.85" font-size="12.3" font-weight="700" text-anchor="end">100</text>
<text x="378.2" y="183.8" font-size="13.8" font-weight="700" transform="rotate(-90 378.2 183.8)" textLength="150" lengthAdjust="spacingAndGlyphs">Percent of CD8+T cells</text>
<text x="477" y="213.7" font-size="12.7" font-weight="700" text-anchor="middle">Granzyme B</text>
<text x="617" y="213.3" font-size="12.7" font-weight="700" text-anchor="middle">Perforin</text>
<rect x="434.5" y="108.75" width="33" height="83.5" fill="#fff" stroke="#000" stroke-width="2.5"/>
<rect x="487" y="134.5" width="33.25" height="57.75" fill="#fff" stroke="#000" stroke-width="2.5"/>
<rect x="627.25" y="72" width="33.2" height="120.25" fill="#fff" stroke="#000" stroke-width="2.5"/>
<path d="M451 101.2V114.5M442.25 101.2H459.75M442.25 114.5H459.75" stroke="#000" stroke-width="1.3" fill="none"/>
<path d="M503.7 124.7V142M494.95 124.7H512.45M494.95 142H512.45" stroke="#000" stroke-width="1.3" fill="none"/>
<path d="M643.75 62.5V80.5M635 62.5H652.5M635 80.5H652.5" stroke="#000" stroke-width="1.3" fill="none"/>
<circle cx="451" cy="89.4" r="3.55"/>
<circle cx="451" cy="108" r="3.55"/>
<circle cx="437" cy="119.6" r="3.55"/>
<circle cx="465" cy="115.5" r="3.55"/>
<rect x="500.35" y="106.65" width="6.7" height="6.7" fill="none" stroke="#000" stroke-width="1.85"/>
<rect x="500.35" y="127.45" width="6.7" height="6.7" fill="none" stroke="#000" stroke-width="1.85"/>
<rect x="500.35" y="138.05" width="6.7" height="6.7" fill="none" stroke="#000" stroke-width="1.85"/>
<rect x="500.35" y="146.25" width="6.7" height="6.7" fill="none" stroke="#000" stroke-width="1.85"/>
<circle cx="577" cy="192" r="3.3"/>
<circle cx="586" cy="191.3" r="3.3"/>
<circle cx="595.5" cy="192" r="3.3"/>
<circle cx="605" cy="192" r="3.3"/>
<rect x="640.4" y="49.15" width="6.7" height="6.7" fill="none" stroke="#000" stroke-width="1.85"/>
<rect x="640.4" y="62.15" width="6.7" height="6.7" fill="none" stroke="#000" stroke-width="1.85"/>
<rect x="640.4" y="68.35" width="6.7" height="6.7" fill="none" stroke="#000" stroke-width="1.85"/>
<rect x="640.4" y="92.15" width="6.7" height="6.7" fill="none" stroke="#000" stroke-width="1.85"/>
<path d="M453.8 30.9H494.6" stroke="#000" stroke-width="2.0"/>
<text x="474.9" y="29.9" font-size="15.2" font-weight="700" text-anchor="middle" style="stroke-width:.25px">***</text>
<path d="M601.2 30.1H641.8" stroke="#000" stroke-width="2.0"/>
<text x="621.4" y="28.7" font-size="13.8" font-weight="700" text-anchor="middle" style="stroke-width:.25px">****</text>
<circle cx="675.5" cy="5" r="3.7"/>
<rect x="672.05" y="24.25" width="6.9" height="6.9" fill="none" stroke="#000" stroke-width="1.9"/>
<text font-size="14.3" transform="translate(694.6 9.95) scale(0.915 1)">Decidua</text>
<text font-size="14.3" transform="translate(694.6 32.65) scale(0.915 1)">PBMC</text>
<path d="M30.75 419.5v4.2M33.27 419.5v3.1M35.78 419.5v3.1M38.3 419.5v3.1M41.18 419.5v3.1M44.42 419.5v3.1M47.65 419.5v3.1M50.89 419.5v3.1M53.77 419.5v3.1M56.28 419.5v3.1M58.44 419.5v3.1M60.24 419.5v3.1M62.04 419.5v3.1M63.48 419.5v3.1M64.55 419.5v3.1M65.63 419.5v3.1M66.71 419.5v4.2M77.54 419.5v3.1M83.87 419.5v3.1M88.36 419.5v3.1M91.85 419.5v3.1M94.7 419.5v3.1M97.1 419.5v3.1M99.19 419.5v3.1M101.03 419.5v3.1M102.67 419.5v4.2M113.5 419.5v3.1M119.83 419.5v3.1M124.33 419.5v3.1M127.81 419.5v3.1M130.66 419.5v3.1M133.07 419.5v3.1M135.15 419.5v3.1M136.99 419.5v3.1M138.64 419.5v4.2M149.46 419.5v3.1M155.8 419.5v3.1M160.29 419.5v3.1M163.77 419.5v3.1M166.62 419.5v3.1M169.03 419.5v3.1M171.11 419.5v3.1M172.95 419.5v3.1M30.75 419.5h-4.2M30.75 417.41h-3.1M30.75 415.31h-3.1M30.75 413.22h-3.1M30.75 410.83h-3.1M30.75 408.14h-3.1M30.75 405.45h-3.1M30.75 402.76h-3.1M30.75 400.37h-3.1M30.75 398.27h-3.1M30.75 396.48h-3.1M30.75 394.99h-3.1M30.75 393.49h-3.1M30.75 392.29h-3.1M30.75 391.4h-3.1M30.75 390.5h-3.1M30.75 389.6h-4.2M30.75 378.59h-3.1M30.75 372.15h-3.1M30.75 367.58h-3.1M30.75 364.04h-3.1M30.75 361.14h-3.1M30.75 358.7h-3.1M30.75 356.58h-3.1M30.75 354.7h-3.1M30.75 353.03h-4.2M30.75 342.02h-3.1M30.75 335.58h-3.1M30.75 331.01h-3.1M30.75 327.47h-3.1M30.75 324.57h-3.1M30.75 322.12h-3.1M30.75 320h-3.1M30.75 318.13h-3.1M30.75 316.46h-4.2M30.75 305.45h-3.1M30.75 299.01h-3.1M30.75 294.44h-3.1M30.75 290.89h-3.1M30.75 288h-3.1M30.75 285.55h-3.1M30.75 283.43h-3.1M30.75 281.56h-3.1M30.75 279.88h-4.2M174.6 419.5v4.2M30.75 275.5h-4.2" stroke="#000" stroke-width="1.0" fill="none"/>
<rect x="58.25" y="307" width="77.5" height="74.25" fill="none" stroke="#555" stroke-width=".9"/>
<path id="p3" transform="scale(0.666667)" d="M121 503.5h1m7 1h1m-6 2h1m-3 1h1m5 0h1m-14 1h2m7 0h1m4 0h1m-16 2h1m2 0h1m3 0h1m-2 1h1m7 0h1m-18 1h1m11 0h1m2 0h1m-3 1h1m-12 1h1m2 0h3m1 0h2m1 0h1m1 0h1m-15 1h1m8 0h1m3 0h1m7 0h1m-23 1h1m7 0h1m4 0h3m5 0h1m-20 1h1m10 0h2m1 0h1m2 0h1m5 0h1m-15 1h1m3 0h1m-16 1h1m2 0h1m3 0h1m4 0h1m2 0h1m2 0h1m-15 1h1m2 0h2m3 0h1m1 0h2m1 0h1m1 0h1m-26 1h1m9 0h1m6 0h1m4 0h3m-14 1h1m5 0h2m6 0h1m1 0h2m-26 1h1m3 0h1m2 0h1m6 0h1m2 0h1m5 0h1m1 0h1m-26 1h1m4 0h3m2 0h1m2 0h1m1 0h2m1 0h1m4 0h2m-20 1h1m1 0h1m1 0h1m3 0h3m3 0h1m1 0h3m5 0h1m-28 1h1m4 0h2m1 0h2m1 0h3m1 0h1m4 0h1m5 0h1m-29 1h1m2 0h1m4 0h4m1 0h7m2 0h1m4 0h1m-24 1h2m2 0h10m9 0h3m-25 1h1m5 0h10m3 0h1m6 0h1m-29 1h1m2 0h1m1 0h2m1 0h2m1 0h1m1 0h1m2 0h1m1 0h2m4 0h1m-32 1h1m4 0h1m4 0h1m1 0h2m1 0h3m1 0h4m2 0h1m1 0h1m2 0h1m-27 1h1m3 0h3m2 0h1m1 0h1m1 0h1m1 0h1m1 0h7m3 0h2m-29 1h1m1 0h1m1 0h1m2 0h1m2 0h3m1 0h4m2 0h7m1 0h2m-29 1h1m3 0h2m1 0h9m1 0h2m3 0h1m1 0h2m-24 1h2m1 0h2m1 0h10m1 0h1m1 0h4m1 0h1m-26 1h1m2 0h4m1 0h11m1 0h2m2 0h1m4 0h1m-28 1h8m1 0h8m4 0h1m5 0h1m-28 1h1m5 0h7m1 0h1m2 0h1m2 0h3m1 0h1m-22 1h1m1 0h7m1 0h4m2 0h3m3 0h1m-33 1h2m5 0h1m2 0h15m5 0h1m-26 1h3m2 0h1m1 0h1m1 0h1m1 0h5m1 0h5m1 0h2m-23 1h3m1 0h10m1 0h2m2 0h1m2 0h1m3 0h1m-30 1h1m3 0h11m1 0h4m1 0h2m2 0h2m2 0h1m1 0h1m-29 1h1m1 0h16m1 0h3m2 0h1m-27 1h1m1 0h1m2 0h6m1 0h9m6 0h1m-35 1h1m7 0h1m2 0h1m2 0h13m1 0h1m1 0h1m1 0h1m-25 1h2m1 0h1m1 0h7m1 0h7m1 0h1m-21 1h2m1 0h2m1 0h5m1 0h5m2 0h1m1 0h1m-24 1h1m4 0h4m1 0h6m3 0h3m2 0h2m2 0h1m-44 1h1m11 0h1m1 0h1m1 0h2m1 0h2m4 0h5m7 0h1m1 0h1m4 0h1m-34 1h1m2 0h2m1 0h2m2 0h1m1 0h17m1 0h1m5 0h1m-35 1h1m5 0h1m1 0h8m1 0h3m1 0h2m-20 1h1m2 0h3m1 0h3m1 0h2m1 0h2m1 0h4m1 0h2m-28 1h1m2 0h2m1 0h2m2 0h8m2 0h1m1 0h6m1 0h1m-23 1h3m1 0h6m1 0h1m1 0h2m1 0h4m-28 1h1m2 0h1m2 0h2m2 0h7m1 0h3m1 0h2m1 0h1m1 0h1m-20 1h1m1 0h8m1 0h1m2 0h3m2 0h1m1 0h1m-24 1h6m2 0h1m1 0h5m4 0h2m-21 1h1m3 0h2m1 0h8m1 0h2m1 0h2m1 0h1m-19 1h1m1 0h7m1 0h1m1 0h1m1 0h1m1 0h1m-24 1h1m3 0h3m1 0h1m1 0h6m2 0h2m9 0h1m-30 1h1m2 0h1m4 0h4m2 0h2m1 0h1m4 0h1m-22 1h1m6 0h1m1 0h1m1 0h3m1 0h1m3 0h1m-13 1h2m1 0h2m1 0h1m2 0h4m-17 1h2m1 0h3m3 0h1m3 0h1m7 0h1m-28 1h1m4 0h1m5 0h2m1 0h1m4 0h1m1 0h2m1 0h1m-28 1h1m6 0h1m4 0h1m2 0h1m1 0h1m3 0h3m1 0h1m3 0h1m5 0h1m-30 1h1m1 0h1m3 0h1m1 0h1m1 0h1m2 0h3m1 0h1m-14 1h1m6 0h2m1 0h2m3 0h1m2 0h2m-18 1h3m1 0h2m4 0h1m2 0h1m1 0h2m-16 1h2m1 0h1m2 0h1m3 0h1m1 0h1m3 0h1m-22 1h1m4 0h1m1 0h1m3 0h2m1 0h3m-28 1h1m11 0h1m2 0h1m1 0h2m2 0h1m2 0h1m1 0h1m3 0h1m1 0h1m-28 1h2m5 0h1m10 0h2m1 0h1m2 0h3m1 0h1m-23 1h1m4 0h1m3 0h1m1 0h2m1 0h1m2 0h1m1 0h1m-13 1h3m1 0h2m1 0h1m3 0h1m-24 1h1m11 0h2m1 0h2m2 0h2m1 0h2m2 0h1m-23 1h4m3 0h1m1 0h1m1 0h1m1 0h2m6 0h1m-22 1h1m7 0h3m1 0h4m3 0h1m2 0h1m-30 1h1m10 0h2m1 0h2m1 0h2m1 0h1m2 0h1m1 0h1m5 0h1m-19 1h1m1 0h5m1 0h4m1 0h1m3 0h2m-26 1h1m7 0h1m2 0h2m3 0h5m3 0h1m-21 1h2m1 0h3m1 0h6m3 0h2m4 0h1m-25 1h1m2 0h2m2 0h1m1 0h2m3 0h1m2 0h1m5 0h1m-27 1h1m3 0h1m1 0h4m1 0h4m1 0h1m1 0h1m1 0h3m6 0h1m-25 1h1m1 0h5m1 0h6m1 0h1m4 0h1m1 0h1m-36 1h1m7 0h1m3 0h2m2 0h1m1 0h3m1 0h1m1 0h1m1 0h1m-22 1h1m2 0h5m1 0h1m1 0h5m1 0h4m1 0h1m1 0h2m1 0h1m-25 1h1m2 0h12m1 0h1m1 0h4m5 0h1m-26 1h2m1 0h1m3 0h1m1 0h1m1 0h2m1 0h11m-30 1h1m3 0h1m1 0h2m2 0h3m1 0h3m1 0h1m1 0h5m1 0h2m2 0h1m-26 1h4m2 0h3m1 0h5m2 0h2m-27 1h1m2 0h1m4 0h1m2 0h4m1 0h9m3 0h2m1 0h2m4 0h1m-30 1h4m1 0h2m1 0h3m1 0h3m2 0h3m1 0h2m1 0h1m-30 1h1m4 0h1m1 0h14m1 0h4m4 0h1m-28 1h1m1 0h1m1 0h1m1 0h7m1 0h7m1 0h1m1 0h1m-29 1h1m3 0h1m2 0h1m1 0h6m1 0h2m1 0h6m1 0h1m1 0h1m3 0h1m1 0h1m-34 1h1m3 0h11m1 0h1m1 0h1m1 0h1m2 0h5m6 0h1m-33 1h1m2 0h3m3 0h4m1 0h3m3 0h2m2 0h1m1 0h1m-21 1h2m1 0h1m1 0h2m1 0h2m1 0h2m4 0h1m2 0h3m-28 1h8m1 0h5m1 0h2m1 0h3m3 0h1m1 0h1m3 0h1m-29 1h1m2 0h3m1 0h5m1 0h4m3 0h2m1 0h2m-26 1h1m4 0h8m1 0h6m1 0h2m-24 1h1m3 0h5m1 0h2m1 0h3m1 0h3m-25 1h1m4 0h1m1 0h1m5 0h3m1 0h9m2 0h1m1 0h2m5 0h1m-34 1h1m5 0h4m1 0h1m1 0h2m1 0h1m3 0h3m1 0h1m2 0h1m-29 1h2m5 0h1m2 0h5m1 0h2m1 0h1m2 0h1m3 0h1m9 0h1m-32 1h3m3 0h2m3 0h6m1 0h1m5 0h1m-26 1h1m3 0h1m1 0h1m1 0h1m1 0h2m1 0h1m1 0h1m1 0h1m1 0h1m1 0h1m-24 1h1m2 0h1m3 0h2m1 0h1m2 0h1m1 0h1m2 0h3m4 0h1m5 0h1m-30 1h2m1 0h1m1 0h1m2 0h1m2 0h1m1 0h1m2 0h2m6 0h1m-37 1h1m11 0h1m1 0h1m2 0h1m4 0h1m4 0h1m4 0h1m-18 1h1m1 0h1m1 0h1m1 0h1m3 0h1m1 0h1m9 0h1m-28 1h1m4 0h2m1 0h1m1 0h1m1 0h2m4 0h2m1 0h1m6 0h1m-20 1h1m4 0h1m4 0h1m4 0h1m-18 1h1m3 0h2m7 0h3m1 0h1m-17 1h1m2 0h3m6 0h1m-11 1h1m2 0h1m7 0h1m4 1h1m-22 1h1m2 0h1m2 0h1m0 3h1m6 0h1m-8 1h1m-2 2h1m5 0h1m-4 1h1" stroke="#000" stroke-width="1.2" fill="none"/><use href="#p3"/>
<rect x="30.75" y="275.5" width="143.85" height="144" fill="none" stroke="#1a1a1a" stroke-width="1.1"/>
<text font-size="14.4" transform="translate(117.3 326.4) scale(0.93 1)" font-weight="700" text-anchor="middle">56%</text>
<path d="M197 418.8v4.2M199.53 418.8v3.1M202.06 418.8v3.1M204.59 418.8v3.1M207.48 418.8v3.1M210.73 418.8v3.1M213.98 418.8v3.1M217.23 418.8v3.1M220.12 418.8v3.1M222.65 418.8v3.1M224.82 418.8v3.1M226.62 418.8v3.1M228.43 418.8v3.1M229.87 418.8v3.1M230.96 418.8v3.1M232.04 418.8v3.1M233.12 418.8v4.2M244 418.8v3.1M250.36 418.8v3.1M254.87 418.8v3.1M258.38 418.8v3.1M261.24 418.8v3.1M263.65 418.8v3.1M265.75 418.8v3.1M267.6 418.8v3.1M269.25 418.8v4.2M280.12 418.8v3.1M286.49 418.8v3.1M291 418.8v3.1M294.5 418.8v3.1M297.36 418.8v3.1M299.78 418.8v3.1M301.87 418.8v3.1M303.72 418.8v3.1M305.38 418.8v4.2M316.25 418.8v3.1M322.61 418.8v3.1M327.12 418.8v3.1M330.63 418.8v3.1M333.49 418.8v3.1M335.9 418.8v3.1M338 418.8v3.1M339.85 418.8v3.1M197 418.8h-4.2M197 416.7h-3.1M197 414.61h-3.1M197 412.51h-3.1M197 410.12h-3.1M197 407.42h-3.1M197 404.73h-3.1M197 402.03h-3.1M197 399.64h-3.1M197 397.54h-3.1M197 395.75h-3.1M197 394.25h-3.1M197 392.75h-3.1M197 391.56h-3.1M197 390.66h-3.1M197 389.76h-3.1M197 388.86h-4.2M197 377.84h-3.1M197 371.39h-3.1M197 366.81h-3.1M197 363.26h-3.1M197 360.36h-3.1M197 357.91h-3.1M197 355.79h-3.1M197 353.91h-3.1M197 352.24h-4.2M197 341.21h-3.1M197 334.76h-3.1M197 330.19h-3.1M197 326.64h-3.1M197 323.74h-3.1M197 321.29h-3.1M197 319.16h-3.1M197 317.29h-3.1M197 315.61h-4.2M197 304.59h-3.1M197 298.14h-3.1M197 293.56h-3.1M197 290.02h-3.1M197 287.12h-3.1M197 284.66h-3.1M197 282.54h-3.1M197 280.67h-3.1M197 278.99h-4.2M341.5 418.8v4.2M197 274.6h-4.2" stroke="#000" stroke-width="1.0" fill="none"/>
<rect x="217.5" y="307.5" width="77.5" height="73.75" fill="none" stroke="#555" stroke-width=".9"/>
<path id="p4" transform="scale(0.666667)" d="M375 501.5h1m-8 5h1m-5 3h1m6 3h1m-17 5h1m19 0h1m-11 1h1m4 3h1m-3 2h1m1 0h1m-7 1h1m4 0h1m-2 1h1m-6 1h1m5 0h1m-5 1h1m-10 1h1m3 0h1m2 0h1m1 0h1m5 1h1m3 0h1m-17 1h1m4 0h1m-9 2h1m5 0h1m6 0h1m-9 1h1m-4 2h1m3 0h1m2 0h2m2 0h1m3 0h1m1 0h1m1 0h1m6 0h1m-25 1h1m5 0h1m2 0h1m1 0h1m-8 1h1m6 0h1m-9 1h1m2 0h2m2 0h1m3 0h1m1 1h1m-10 1h1m1 0h1m-12 1h1m10 0h1m2 0h1m3 0h1m-24 1h1m9 0h2m1 0h1m5 0h2m1 0h1m-19 1h1m8 0h3m-4 1h1m2 0h1m-8 1h1m1 0h1m1 0h1m3 0h3m5 0h1m-18 1h1m10 0h1m-11 1h2m3 0h1m1 0h4m5 0h1m-13 1h1m2 0h1m1 0h2m1 0h3m-18 1h1m4 0h1m1 0h1m3 0h1m-10 1h1m4 0h3m6 0h1m-18 1h1m5 0h2m5 0h1m-11 1h2m6 0h1m1 0h1m-6 1h1m1 0h1m0 1h2m3 0h1m8 0h1m-16 1h1m3 0h1m2 0h1m-12 1h1m1 0h1m3 0h1m1 0h1m-14 1h1m2 0h1m2 0h2m1 0h1m1 1h1m2 0h1m-8 1h2m3 0h1m2 0h1m-13 1h1m1 0h1m1 0h1m1 0h1m-17 1h1m13 0h1m-6 1h1m1 0h2m1 0h1m5 0h1m-13 1h1m1 0h1m2 0h1m1 0h1m1 0h1m6 0h1m-9 1h1m-4 1h1m3 0h1m3 0h1m-13 1h1m8 0h1m3 0h1m-17 1h1m7 0h1m4 0h1m-11 1h1m-2 1h1m10 0h1m5 0h1m-15 1h1m7 0h1m1 1h1m-2 1h2m-20 1h1m10 0h1m1 0h1m1 0h1m11 1h1m-30 1h1m12 0h1m16 0h1m-24 1h3m1 0h1m5 0h1m2 0h2m1 0h1m-25 1h1m12 0h1m1 0h2m2 0h1m3 0h1m3 0h1m1 0h1m-21 1h1m3 0h2m1 0h2m1 0h2m8 0h1m-22 1h1m5 0h3m5 0h1m4 0h2m-25 1h1m4 0h1m1 0h2m3 0h1m2 0h1m3 0h1m1 0h2m2 0h2m-32 1h1m7 0h1m2 0h1m1 0h1m1 0h1m1 0h2m1 0h1m1 0h3m1 0h1m2 0h2m-35 1h2m3 0h1m6 0h3m1 0h2m1 0h10m1 0h1m9 0h1m-34 1h3m1 0h1m1 0h1m1 0h1m1 0h6m2 0h2m1 0h2m1 0h1m2 0h1m1 0h1m5 0h1m4 0h1m-37 1h1m1 0h2m1 0h3m2 0h7m2 0h1m1 0h1m1 0h2m1 0h1m-31 1h1m1 0h1m1 0h3m1 0h17m4 0h4m-44 1h1m3 0h1m1 0h1m7 0h2m1 0h19m1 0h2m1 0h1m-34 1h2m3 0h16m1 0h5m1 0h3m2 0h2m6 0h1m-53 1h1m11 0h1m1 0h1m4 0h9m1 0h10m1 0h1m2 0h1m2 0h1m2 0h2m-40 1h1m3 0h26m3 0h4m1 0h1m9 0h1m-64 1h1m11 0h2m4 0h1m1 0h2m1 0h27m4 0h1m10 0h1m-71 1h1m6 0h1m12 0h1m1 0h2m2 0h27m1 0h1m1 0h1m4 0h1m4 0h1m-64 1h1m20 0h32m1 0h3m1 0h2m-48 1h1m8 0h29m1 0h6m2 0h1m1 0h2m-47 1h33m1 0h4m3 0h1m1 0h1m1 0h1m-48 1h1m3 0h36m1 0h4m1 0h1m14 0h1m-67 1h1m7 0h2m1 0h37m7 0h1m-54 1h1m4 0h2m1 0h40m2 0h1m-49 1h45m1 0h1m-50 1h1m5 0h4m1 0h30m1 0h6m2 0h1m3 0h1m-52 1h3m2 0h1m1 0h37m-44 1h2m1 0h38m2 0h2m4 0h1m3 0h1m-53 1h1m4 0h37m3 0h2m1 0h1m-50 1h1m1 0h3m2 0h2m1 0h28m1 0h2m1 0h1m1 0h1m9 0h1m-55 1h1m3 0h2m1 0h32m2 0h1m1 0h2m4 0h1m-50 1h4m2 0h36m1 0h1m2 0h2m-41 1h34m1 0h2m1 0h1m2 0h2m8 0h1m-56 1h1m1 0h1m3 0h29m1 0h2m1 0h5m17 0h1m-61 1h1m1 0h1m1 0h4m1 0h25m1 0h4m5 0h1m-49 1h1m4 0h1m2 0h29m1 0h3m2 0h1m3 0h1m-48 1h1m2 0h2m1 0h3m2 0h29m1 0h5m-42 1h4m1 0h27m1 0h5m-34 1h1m1 0h14m1 0h4m1 0h4m1 0h3m1 0h1m11 0h1m-49 1h1m6 0h18m1 0h4m1 0h2m1 0h1m2 0h1m3 0h2m19 0h1m-66 1h1m1 0h1m4 0h3m1 0h2m1 0h15m2 0h4m5 0h1m-31 1h1m3 0h6m1 0h2m2 0h5m2 0h1m2 0h1m5 0h1m1 0h1m-41 1h1m7 0h4m1 0h2m1 0h4m3 0h3m1 0h2m11 0h1m-42 1h1m4 0h1m1 0h3m2 0h1m2 0h2m1 0h2m1 0h2m1 0h5m5 0h1m1 0h1m7 0h1m-36 1h1m5 0h1m3 0h5m4 0h1m6 0h1m8 0h1m6 0h1m-44 1h1m10 0h4m2 0h2m2 0h1m1 0h1m-19 1h1m2 0h1m3 0h1m5 1h1m-7 1h1m5 0h1m10 0h1m-29 1h1m20 0h1m-23 1h1m29 0h1" stroke="#000" stroke-width="1.2" fill="none"/><use href="#p4"/>
<rect x="197" y="274.6" width="144.5" height="144.2" fill="none" stroke="#1a1a1a" stroke-width="1.1"/>
<text font-size="14.4" transform="translate(272.6 326.9) scale(0.93 1)" font-weight="700" text-anchor="middle">6.19%</text>
<text x="17.1" y="421.2" font-size="15.4" font-weight="700" transform="rotate(-90 17.1 421.2)" textLength="33.4" lengthAdjust="spacingAndGlyphs">IFN-γ</text>
<path d="M11.3 380.2V346" stroke="#222" stroke-width=".9"/><path d="M9.9 347.6L11.3 344L12.7 347.6Z" fill="#222"/>
<text x="36.2" y="440.2" font-size="16.6" font-weight="700">CD8</text>
<path d="M80.5 435.5H326" stroke="#222" stroke-width=".9"/><path d="M325 434.1L328.4 435.5L325 436.9Z" fill="#222"/>
<path d="M30.75 618.8v4.2M33.27 618.8v3.1M35.8 618.8v3.1M38.32 618.8v3.1M41.21 618.8v3.1M44.45 618.8v3.1M47.7 618.8v3.1M50.95 618.8v3.1M53.83 618.8v3.1M56.35 618.8v3.1M58.52 618.8v3.1M60.32 618.8v3.1M62.12 618.8v3.1M63.57 618.8v3.1M64.65 618.8v3.1M65.73 618.8v3.1M66.81 618.8v4.2M77.67 618.8v3.1M84.02 618.8v3.1M88.52 618.8v3.1M92.02 618.8v3.1M94.87 618.8v3.1M97.29 618.8v3.1M99.38 618.8v3.1M101.22 618.8v3.1M102.88 618.8v4.2M113.73 618.8v3.1M120.08 618.8v3.1M124.59 618.8v3.1M128.08 618.8v3.1M130.94 618.8v3.1M133.35 618.8v3.1M135.44 618.8v3.1M137.29 618.8v3.1M138.94 618.8v4.2M149.79 618.8v3.1M156.14 618.8v3.1M160.65 618.8v3.1M164.14 618.8v3.1M167 618.8v3.1M169.41 618.8v3.1M171.51 618.8v3.1M173.35 618.8v3.1M30.75 618.8h-4.2M30.75 616.7h-3.1M30.75 614.6h-3.1M30.75 612.5h-3.1M30.75 610.1h-3.1M30.75 607.4h-3.1M30.75 604.7h-3.1M30.75 602h-3.1M30.75 599.6h-3.1M30.75 597.5h-3.1M30.75 595.7h-3.1M30.75 594.2h-3.1M30.75 592.7h-3.1M30.75 591.5h-3.1M30.75 590.6h-3.1M30.75 589.7h-3.1M30.75 588.8h-4.2M30.75 577.75h-3.1M30.75 571.29h-3.1M30.75 566.7h-3.1M30.75 563.15h-3.1M30.75 560.24h-3.1M30.75 557.78h-3.1M30.75 555.66h-3.1M30.75 553.78h-3.1M30.75 552.1h-4.2M30.75 541.05h-3.1M30.75 534.59h-3.1M30.75 530h-3.1M30.75 526.45h-3.1M30.75 523.54h-3.1M30.75 521.08h-3.1M30.75 518.96h-3.1M30.75 517.08h-3.1M30.75 515.4h-4.2M30.75 504.35h-3.1M30.75 497.89h-3.1M30.75 493.3h-3.1M30.75 489.75h-3.1M30.75 486.84h-3.1M30.75 484.38h-3.1M30.75 482.26h-3.1M30.75 480.38h-3.1M30.75 478.7h-4.2M175 618.8v4.2M30.75 474.3h-4.2" stroke="#000" stroke-width="1.0" fill="none"/>
<rect x="53.25" y="514.25" width="78.25" height="73.25" fill="none" stroke="#555" stroke-width=".9"/>
<path id="p5" transform="scale(0.666667)" d="M126 837.5h1m3 4h1m-10 4h1m-16 3h1m-1 1h1m18 3h1m-7 1h1m-13 1h1m13 0h3m-3 1h1m9 0h1m-14 1h1m15 0h1m-18 1h1m-6 1h1m16 0h1m-18 1h1m10 0h1m5 0h1m-11 1h1m1 0h1m1 0h1m4 0h2m-23 1h1m1 0h1m1 0h1m4 0h1m6 0h1m3 0h1m2 0h1m-13 1h1m5 0h1m3 0h1m-10 1h1m1 0h1m8 0h2m-27 1h1m4 0h1m7 0h1m1 0h1m2 0h1m2 0h2m5 0h1m-30 1h1m2 0h1m8 0h1m5 0h1m1 0h1m3 0h1m-23 1h1m4 0h1m6 0h2m2 0h2m5 0h1m10 0h1m-48 1h1m23 0h1m4 0h1m1 0h1m-4 1h3m1 0h1m-16 1h1m8 0h2m3 0h1m1 0h1m-18 1h1m1 0h1m3 0h2m3 0h2m1 0h2m2 0h1m1 0h1m-19 1h1m4 0h1m1 0h4m1 0h2m7 0h1m-27 1h1m8 0h1m6 0h2m2 0h1m1 0h1m2 0h1m4 0h1m-38 1h1m4 0h1m1 0h1m5 0h2m5 0h1m2 0h1m1 0h2m8 0h1m4 0h1m-36 1h1m9 0h1m3 0h4m2 0h1m1 0h1m2 0h1m2 0h2m-37 1h1m15 0h1m2 0h2m1 0h2m2 0h1m3 0h3m4 0h2m-29 1h2m5 0h1m1 0h1m1 0h4m1 0h1m1 0h1m2 0h1m2 0h3m3 0h1m-32 1h1m4 0h1m1 0h1m4 0h3m1 0h2m2 0h1m4 0h2m1 0h1m1 0h1m-23 1h7m3 0h6m3 0h1m-30 1h1m1 0h1m1 0h2m4 0h1m1 0h1m3 0h2m2 0h2m1 0h1m1 0h2m2 0h2m2 0h2m2 0h1m-32 1h1m2 0h5m1 0h5m2 0h3m3 0h2m2 0h2m10 0h1m-55 1h1m4 0h1m7 0h1m2 0h1m1 0h2m1 0h3m2 0h6m2 0h8m-38 1h1m7 0h1m1 0h2m5 0h2m1 0h2m1 0h1m4 0h2m2 0h1m1 0h1m2 0h1m9 0h1m-40 1h2m5 0h3m1 0h6m2 0h1m1 0h3m2 0h1m1 0h3m2 0h1m1 0h1m-39 1h2m7 0h2m1 0h9m3 0h6m8 0h1m-43 1h1m4 0h1m1 0h6m1 0h3m2 0h10m2 0h4m1 0h1m7 0h1m-42 1h2m2 0h5m1 0h1m2 0h1m1 0h6m1 0h1m2 0h2m1 0h5m1 0h1m2 0h1m1 0h1m2 0h1m-40 1h1m1 0h13m2 0h4m3 0h2m1 0h4m1 0h1m2 0h2m-46 1h1m4 0h1m1 0h1m3 0h2m1 0h3m2 0h21m2 0h1m2 0h2m1 0h1m6 0h1m-58 1h1m5 0h1m1 0h1m3 0h2m1 0h8m1 0h1m1 0h13m1 0h3m1 0h1m2 0h2m4 0h1m-62 1h1m12 0h1m2 0h1m1 0h1m1 0h1m2 0h1m1 0h27m1 0h3m4 0h1m-53 1h1m2 0h1m3 0h2m1 0h1m1 0h2m2 0h15m1 0h12m2 0h1m2 0h3m-53 1h1m4 0h1m2 0h2m1 0h1m2 0h34m1 0h1m5 0h2m-55 1h1m1 0h1m1 0h1m2 0h1m2 0h33m1 0h1m1 0h3m5 0h1m-60 1h1m3 0h1m6 0h2m1 0h32m1 0h7m5 0h1m-53 1h1m1 0h1m1 0h1m1 0h40m2 0h1m-49 1h1m4 0h42m1 0h1m-54 1h1m5 0h47m2 0h1m5 0h1m-57 1h2m4 0h40m2 0h1m2 0h1m3 0h1m-61 1h1m4 0h1m1 0h1m2 0h35m1 0h4m1 0h1m-51 1h1m4 0h1m1 0h45m2 0h1m-55 1h2m3 0h46m1 0h3m1 0h1m-62 1h1m5 0h1m2 0h1m1 0h3m1 0h38m1 0h2m1 0h2m-53 1h1m1 0h1m1 0h1m1 0h2m1 0h39m1 0h3m1 0h1m-59 1h1m8 0h44m1 0h3m2 0h1m-53 1h1m1 0h1m1 0h1m1 0h4m1 0h32m1 0h1m1 0h5m1 0h1m-57 1h1m1 0h2m4 0h43m1 0h2m1 0h2m2 0h1m-55 1h2m1 0h2m1 0h43m6 0h1m-55 1h1m1 0h1m1 0h45m2 0h1m-54 1h1m2 0h2m1 0h41m1 0h1m3 0h1m-52 1h1m1 0h2m1 0h41m3 0h1m-53 1h1m4 0h46m-60 1h1m16 0h3m1 0h36m1 0h3m3 0h1m5 0h1m-62 1h1m5 0h44m2 0h1m-51 1h2m1 0h4m2 0h38m4 0h1m3 0h1m-59 1h1m1 0h1m5 0h1m2 0h1m1 0h32m1 0h1m1 0h2m12 0h1m1 0h1m-64 1h1m3 0h2m4 0h37m1 0h2m-47 1h1m3 0h2m1 0h31m1 0h5m1 0h1m1 0h2m-47 1h1m1 0h2m2 0h1m1 0h28m1 0h1m1 0h3m2 0h1m1 0h1m4 0h1m-53 1h2m1 0h1m1 0h34m2 0h1m4 0h1m3 0h1m-46 1h8m1 0h25m1 0h1m3 0h1m2 0h1m-49 1h1m3 0h2m2 0h3m2 0h2m1 0h14m1 0h4m1 0h2m2 0h1m1 0h2m7 0h1m-53 1h1m12 0h5m1 0h2m2 0h3m1 0h11m1 0h2m2 0h1m5 0h1m-39 1h1m1 0h1m1 0h2m1 0h1m1 0h1m1 0h3m1 0h8m1 0h4m6 0h1m9 0h1m-48 1h1m5 0h5m1 0h2m2 0h2m1 0h4m1 0h2m1 0h4m3 0h1m6 0h1m-37 1h3m3 0h4m1 0h6m1 0h1m1 0h1m1 0h4m7 0h1m1 0h1m-44 1h1m1 0h1m1 0h2m2 0h1m6 0h1m1 0h2m1 0h1m1 0h5m2 0h1m2 0h1m1 0h1m7 0h1" stroke="#000" stroke-width="1.2" fill="none"/><use href="#p5"/>
<rect x="30.75" y="474.3" width="144.25" height="144.5" fill="none" stroke="#1a1a1a" stroke-width="1.1"/>
<text font-size="14.4" transform="translate(108.9 533.2) scale(0.93 1)" font-weight="700" text-anchor="middle">4.82%</text>
<path d="M195.8 618v4.2M198.32 618v3.1M200.85 618v3.1M203.37 618v3.1M206.25 618v3.1M209.5 618v3.1M212.74 618v3.1M215.99 618v3.1M218.87 618v3.1M221.4 618v3.1M223.56 618v3.1M225.36 618v3.1M227.16 618v3.1M228.61 618v3.1M229.69 618v3.1M230.77 618v3.1M231.85 618v4.2M242.7 618v3.1M249.05 618v3.1M253.55 618v3.1M257.05 618v3.1M259.9 618v3.1M262.32 618v3.1M264.41 618v3.1M266.25 618v3.1M267.9 618v4.2M278.75 618v3.1M285.1 618v3.1M289.6 618v3.1M293.1 618v3.1M295.95 618v3.1M298.37 618v3.1M300.46 618v3.1M302.3 618v3.1M303.95 618v4.2M314.8 618v3.1M321.15 618v3.1M325.65 618v3.1M329.15 618v3.1M332 618v3.1M334.42 618v3.1M336.51 618v3.1M338.35 618v3.1M195.8 618h-4.2M195.8 615.91h-3.1M195.8 613.83h-3.1M195.8 611.74h-3.1M195.8 609.36h-3.1M195.8 606.68h-3.1M195.8 604h-3.1M195.8 601.32h-3.1M195.8 598.93h-3.1M195.8 596.85h-3.1M195.8 595.06h-3.1M195.8 593.57h-3.1M195.8 592.08h-3.1M195.8 590.89h-3.1M195.8 590h-3.1M195.8 589.1h-3.1M195.8 588.21h-4.2M195.8 577.24h-3.1M195.8 570.82h-3.1M195.8 566.26h-3.1M195.8 562.73h-3.1M195.8 559.85h-3.1M195.8 557.41h-3.1M195.8 555.29h-3.1M195.8 553.43h-3.1M195.8 551.76h-4.2M195.8 540.79h-3.1M195.8 534.37h-3.1M195.8 529.82h-3.1M195.8 526.29h-3.1M195.8 523.4h-3.1M195.8 520.96h-3.1M195.8 518.85h-3.1M195.8 516.98h-3.1M195.8 515.32h-4.2M195.8 504.34h-3.1M195.8 497.93h-3.1M195.8 493.37h-3.1M195.8 489.84h-3.1M195.8 486.96h-3.1M195.8 484.52h-3.1M195.8 482.4h-3.1M195.8 480.54h-3.1M195.8 478.87h-4.2M340 618v4.2M195.8 474.5h-4.2" stroke="#000" stroke-width="1.0" fill="none"/>
<rect x="214.5" y="514" width="78" height="73.5" fill="none" stroke="#555" stroke-width=".9"/>
<path id="p6" transform="scale(0.666667)" d="M368 853.5h1m-16 3h1m12 0h1m-3 4h1m-10 1h1m3 1h1m7 0h1m-13 1h1m5 0h1m9 0h1m-9 1h1m-6 1h1m7 0h1m-7 1h1m6 0h1m-3 1h1m-13 1h1m4 0h1m12 0h1m-17 1h1m7 0h1m1 0h1m3 0h1m-14 1h1m7 0h1m7 0h1m3 0h1m-8 1h1m-3 1h1m-7 1h1m2 0h1m14 0h1m-16 1h1m6 0h1m-17 1h1m2 0h1m5 0h1m4 0h1m-10 1h4m4 0h1m3 0h1m1 0h1m-14 1h1m4 0h1m2 0h1m-23 2h1m16 0h1m6 0h1m-15 1h1m10 0h2m-14 1h1m1 0h2m2 0h1m1 0h1m3 0h1m5 0h2m2 0h1m-25 1h1m7 0h1m3 0h1m4 0h1m-18 1h1m7 0h1m6 0h1m8 0h2m12 0h1m-34 1h1m2 0h1m1 0h2m7 0h1m3 0h1m-29 1h1m8 0h2m1 0h2m5 0h1m5 0h1m4 0h2m-34 1h1m5 0h1m6 0h2m1 0h3m2 0h2m3 0h1m2 0h1m3 0h1m-29 1h1m2 0h1m4 0h2m3 0h1m1 0h6m1 0h3m3 0h1m2 0h1m1 0h1m2 0h1m-39 1h1m4 0h2m1 0h2m2 0h4m1 0h8m1 0h1m2 0h1m5 0h1m3 0h1m-44 1h1m3 0h1m7 0h1m1 0h3m1 0h3m2 0h7m1 0h1m1 0h1m1 0h1m7 0h1m-50 1h1m9 0h1m1 0h1m2 0h1m1 0h1m2 0h3m1 0h8m2 0h2m1 0h1m2 0h1m1 0h1m2 0h1m9 0h2m-49 1h1m1 0h3m3 0h22m1 0h1m1 0h1m1 0h2m4 0h1m-47 1h1m9 0h1m1 0h27m2 0h1m1 0h1m-39 1h1m2 0h24m1 0h4m1 0h1m1 0h2m1 0h1m4 0h1m2 0h1m2 0h1m-55 1h1m1 0h3m1 0h2m1 0h1m1 0h25m1 0h2m2 0h3m1 0h1m2 0h1m-45 1h5m1 0h28m4 0h1m1 0h1m1 0h2m-46 1h2m3 0h2m1 0h32m4 0h1m-47 1h1m4 0h2m1 0h35m2 0h1m-43 1h1m2 0h4m1 0h25m1 0h3m1 0h1m1 0h2m4 0h1m-56 1h1m1 0h2m1 0h1m5 0h35m2 0h3m3 0h1m1 0h1m-55 1h1m2 0h2m2 0h1m1 0h1m1 0h34m1 0h1m1 0h3m-48 1h1m2 0h2m2 0h3m1 0h32m2 0h1m1 0h1m3 0h1m-48 1h1m1 0h1m1 0h34m1 0h2m1 0h2m7 0h1m-50 1h38m1 0h7m7 0h1m-61 1h1m4 0h1m2 0h5m1 0h29m2 0h3m-48 1h1m3 0h1m3 0h5m1 0h30m1 0h2m1 0h1m3 0h1m-57 1h1m11 0h3m1 0h32m6 0h1m-52 1h2m8 0h35m1 0h1m1 0h1m9 0h2m-52 1h1m2 0h2m1 0h29m1 0h2m1 0h1m1 0h1m-49 1h1m5 0h2m2 0h6m1 0h26m-35 1h2m2 0h29m1 0h2m-41 1h1m3 0h1m1 0h4m1 0h1m1 0h23m1 0h3m-35 1h1m1 0h1m2 0h1m1 0h4m1 0h15m1 0h4m1 0h2m2 0h1m3 0h1m-41 1h3m1 0h11m1 0h11m1 0h4m1 0h2m6 0h1m-44 1h1m1 0h1m1 0h5m1 0h10m1 0h4m1 0h3m1 0h1m1 0h1m3 0h1m-34 1h1m3 0h2m1 0h5m1 0h3m1 0h6m1 0h1m1 0h2m3 0h1m3 0h1m-46 1h1m10 0h2m5 0h3m2 0h1m1 0h3m2 0h3m4 0h3m2 0h1m-37 1h2m3 0h3m1 0h1m1 0h2m2 0h5m1 0h2m3 0h1m1 0h1m1 0h1m7 0h1m-30 1h1m1 0h1m3 0h4m7 0h2m3 0h1m-23 1h1m2 0h1m2 0h1m2 0h1m2 0h1m12 0h1m-22 1h1m1 0h1m1 0h1m4 0h1m27 0h1m-31 1h1m3 0h1m3 0h1m3 0h1m3 0h1m-23 1h1m2 0h1m5 1h1" stroke="#000" stroke-width="1.2" fill="none"/><use href="#p6"/>
<rect x="195.8" y="474.5" width="144.2" height="143.5" fill="none" stroke="#1a1a1a" stroke-width="1.1"/>
<text font-size="14.4" transform="translate(270.1 533.2) scale(0.93 1)" font-weight="700" text-anchor="middle">2.18%</text>
<text x="16.8" y="618.9" font-size="15.4" font-weight="700" transform="rotate(-90 16.8 618.9)" textLength="23.6" lengthAdjust="spacingAndGlyphs">IL-4</text>
<path d="M11.3 585.5V551" stroke="#222" stroke-width=".9"/><path d="M9.9 552.8L11.3 549.2L12.7 552.8Z" fill="#222"/>
<text x="36.2" y="645.9" font-size="16.6" font-weight="700">CD8</text>
<path d="M80.5 640.5H326" stroke="#222" stroke-width=".9"/><path d="M325 639.1L328.4 640.5L325 641.9Z" fill="#222"/>
<path d="M419.5 258.75V433.75M418.25 432.5H615.75M412 432.5H419.5M412 389.38H419.5M412 346.26H419.5M412 303.14H419.5M412 260.02H419.5M465 432.5V440M568.25 432.5V440" stroke="#000" stroke-width="2.5" fill="none"/>
<text x="409.8" y="436.9" font-size="12.3" font-weight="700" text-anchor="end">0</text>
<text x="409.8" y="393.78" font-size="12.3" font-weight="700" text-anchor="end">20</text>
<text x="409.8" y="350.66" font-size="12.3" font-weight="700" text-anchor="end">40</text>
<text x="409.8" y="307.54" font-size="12.3" font-weight="700" text-anchor="end">60</text>
<text x="409.8" y="264.42" font-size="12.3" font-weight="700" text-anchor="end">80</text>
<text x="388.6" y="423.8" font-size="13.8" font-weight="700" transform="rotate(-90 388.6 423.8)" textLength="153.5" lengthAdjust="spacingAndGlyphs">Percent of CD8+T cells</text>
<text x="465.5" y="453.7" font-size="12.7" font-weight="700" text-anchor="middle">Decidua</text>
<text x="569.25" y="453.7" font-size="12.7" font-weight="700" text-anchor="middle">PBMC</text>
<rect x="434.25" y="353.25" width="23.75" height="79.25" fill="#fff" stroke="#000" stroke-width="2.5"/>
<rect x="537.5" y="417" width="23.75" height="15.5" fill="#fff" stroke="#000" stroke-width="2.5"/>
<path d="M446.25 340.75V364.25M440 340.75H452.5M440 364.25H452.5" stroke="#000" stroke-width="1.3" fill="none"/>
<path d="M549.4 412.5V419M543 412.5H555.8M543 419H555.8" stroke="#000" stroke-width="1.3" fill="none"/>
<circle cx="455.5" cy="306.25" r="3.55"/>
<circle cx="446.25" cy="312.5" r="3.55"/>
<circle cx="455.5" cy="322" r="3.55"/>
<circle cx="446.25" cy="329.25" r="3.55"/>
<circle cx="446.25" cy="337" r="3.55"/>
<circle cx="436.75" cy="356.25" r="3.55"/>
<circle cx="446.25" cy="362" r="3.55"/>
<circle cx="446.25" cy="392" r="3.55"/>
<circle cx="446.25" cy="401.75" r="3.55"/>
<circle cx="446.25" cy="409.5" r="3.55"/>
<rect x="472.4" y="429.15" width="6.7" height="6.7" fill="none" stroke="#000" stroke-width="1.85"/>
<rect x="478.4" y="427.9" width="6.7" height="6.7" fill="none" stroke="#000" stroke-width="1.85"/>
<rect x="484.9" y="429.15" width="6.7" height="6.7" fill="none" stroke="#000" stroke-width="1.85"/>
<rect x="490.9" y="429.15" width="6.7" height="6.7" fill="none" stroke="#000" stroke-width="1.85"/>
<circle cx="543.25" cy="400" r="3.55"/>
<circle cx="551.25" cy="403" r="3.55"/>
<circle cx="555" cy="402" r="3.55"/>
<circle cx="541.25" cy="425" r="3.55"/>
<circle cx="547.5" cy="424.3" r="3.55"/>
<circle cx="555" cy="425" r="3.55"/>
<circle cx="547" cy="419" r="3.55"/>
<circle cx="555" cy="418.3" r="3.55"/>
<circle cx="559" cy="424" r="3.55"/>
<rect x="575.65" y="429.15" width="6.7" height="6.7" fill="none" stroke="#000" stroke-width="1.85"/>
<rect x="579.65" y="427.25" width="6.7" height="6.7" fill="none" stroke="#000" stroke-width="1.85"/>
<rect x="583.65" y="429.15" width="6.7" height="6.7" fill="none" stroke="#000" stroke-width="1.85"/>
<rect x="587.65" y="429.15" width="6.7" height="6.7" fill="none" stroke="#000" stroke-width="1.85"/>
<rect x="591.65" y="429.15" width="6.7" height="6.7" fill="none" stroke="#000" stroke-width="1.85"/>
<rect x="594.65" y="429.15" width="6.7" height="6.7" fill="none" stroke="#000" stroke-width="1.85"/>
<path d="M443 270.6H565" stroke="#000" stroke-width="2.5"/>
<text x="501.8" y="268.1" font-size="13.6" font-weight="700" text-anchor="middle" style="stroke-width:.25px">****</text>
<path d="M442 289.5H482" stroke="#000" stroke-width="2.5"/>
<text x="464.7" y="288.7" font-size="13.6" font-weight="700" text-anchor="middle" style="stroke-width:.25px">****</text>
<path d="M548.9 289.5H589" stroke="#000" stroke-width="2.5"/>
<text x="569.6" y="288.7" font-size="13.6" font-weight="700" text-anchor="middle" style="stroke-width:.25px">***</text>
<circle cx="640.5" cy="272" r="3.7"/>
<rect x="637.05" y="291.95" width="6.9" height="6.9" fill="none" stroke="#000" stroke-width="1.9"/>
<text font-size="14.4" transform="translate(660.5 276.95) scale(0.925 1)">PI</text>
<text font-size="14.4" transform="translate(660.5 300.35) scale(0.925 1)">Control</text>
<path d="M433 478V648M431.75 646.75H623.75M425.5 646.75H433M425.5 613.25H433M425.5 579.75H433M425.5 546.25H433M425.5 512.75H433M425.5 479.25H433M476.75 646.75V654.25M578 646.75V654.25" stroke="#000" stroke-width="2.5" fill="none"/>
<text x="423.3" y="651.15" font-size="12.3" font-weight="700" text-anchor="end">0</text>
<text x="423.3" y="617.65" font-size="12.3" font-weight="700" text-anchor="end">2</text>
<text x="423.3" y="584.15" font-size="12.3" font-weight="700" text-anchor="end">4</text>
<text x="423.3" y="550.65" font-size="12.3" font-weight="700" text-anchor="end">6</text>
<text x="423.3" y="517.15" font-size="12.3" font-weight="700" text-anchor="end">8</text>
<text x="423.3" y="483.65" font-size="12.3" font-weight="700" text-anchor="end">10</text>
<text x="402.3" y="638" font-size="13.8" font-weight="700" transform="rotate(-90 402.3 638)" textLength="150" lengthAdjust="spacingAndGlyphs">Percent of CD8+T cells</text>
<text x="476.9" y="667.5" font-size="12.7" font-weight="700" text-anchor="middle">Decidua</text>
<text x="578" y="667.5" font-size="12.7" font-weight="700" text-anchor="middle">PBMC</text>
<rect x="446.25" y="593.75" width="23.75" height="53" fill="#fff" stroke="#000" stroke-width="2.5"/>
<rect x="484.5" y="635.5" width="23" height="11.25" fill="#fff" stroke="#000" stroke-width="2.5"/>
<rect x="547.5" y="605.75" width="22.5" height="41" fill="#fff" stroke="#000" stroke-width="2.5"/>
<rect x="585.5" y="609.5" width="23.25" height="37.25" fill="#fff" stroke="#000" stroke-width="2.5"/>
<path d="M458.25 582V604.5M451.65 582H464.85M451.65 604.5H464.85" stroke="#000" stroke-width="1.3" fill="none"/>
<path d="M496 630.6V637.6M489.7 630.6H502.3M489.7 637.6H502.3" stroke="#000" stroke-width="1.3" fill="none"/>
<path d="M558.75 601.25V608.2M552.45 601.25H565.05M552.45 608.2H565.05" stroke="#000" stroke-width="1.3" fill="none"/>
<path d="M597.25 601.75V615.5M590.95 601.75H603.55M590.95 615.5H603.55" stroke="#000" stroke-width="1.3" fill="none"/>
<circle cx="458.25" cy="515.75" r="3.55"/>
<circle cx="458.25" cy="565" r="3.55"/>
<circle cx="458.25" cy="579.5" r="3.55"/>
<circle cx="449.25" cy="583.25" r="3.55"/>
<circle cx="467.5" cy="590" r="3.55"/>
<circle cx="458.25" cy="595.5" r="3.55"/>
<circle cx="449.25" cy="619.25" r="3.55"/>
<circle cx="467.5" cy="623.75" r="3.55"/>
<circle cx="458.25" cy="625.5" r="3.55"/>
<circle cx="458.25" cy="635" r="3.55"/>
<rect x="483.4" y="622.4" width="6.7" height="6.7" fill="none" stroke="#000" stroke-width="1.85"/>
<rect x="489.9" y="624.15" width="6.7" height="6.7" fill="none" stroke="#000" stroke-width="1.85"/>
<rect x="496.15" y="629.15" width="6.7" height="6.7" fill="none" stroke="#000" stroke-width="1.85"/>
<rect x="502.4" y="629.15" width="6.7" height="6.7" fill="none" stroke="#000" stroke-width="1.85"/>
<rect x="483.4" y="629.65" width="6.7" height="6.7" fill="none" stroke="#000" stroke-width="1.85"/>
<rect x="489.9" y="630.65" width="6.7" height="6.7" fill="none" stroke="#000" stroke-width="1.85"/>
<rect x="496.15" y="636.15" width="6.7" height="6.7" fill="none" stroke="#000" stroke-width="1.85"/>
<rect x="483.4" y="638.65" width="6.7" height="6.7" fill="none" stroke="#000" stroke-width="1.85"/>
<rect x="489.9" y="638.65" width="6.7" height="6.7" fill="none" stroke="#000" stroke-width="1.85"/>
<rect x="502.4" y="636.15" width="6.7" height="6.7" fill="none" stroke="#000" stroke-width="1.85"/>
<circle cx="554.25" cy="588.75" r="3.55"/>
<circle cx="563.75" cy="589.5" r="3.55"/>
<circle cx="550" cy="604.5" r="3.55"/>
<circle cx="568" cy="602.5" r="3.55"/>
<circle cx="555" cy="606.25" r="3.55"/>
<circle cx="561.25" cy="607.5" r="3.55"/>
<circle cx="563.75" cy="612" r="3.55"/>
<circle cx="554.25" cy="618" r="3.55"/>
<circle cx="558.75" cy="609" r="3.55"/>
<rect x="593.65" y="576.15" width="6.7" height="6.7" fill="none" stroke="#000" stroke-width="1.85"/>
<rect x="584.65" y="599.15" width="6.7" height="6.7" fill="none" stroke="#000" stroke-width="1.85"/>
<rect x="593.65" y="602.4" width="6.7" height="6.7" fill="none" stroke="#000" stroke-width="1.85"/>
<rect x="593.65" y="609.15" width="6.7" height="6.7" fill="none" stroke="#000" stroke-width="1.85"/>
<rect x="602.9" y="616.65" width="6.7" height="6.7" fill="none" stroke="#000" stroke-width="1.85"/>
<rect x="584.65" y="621.15" width="6.7" height="6.7" fill="none" stroke="#000" stroke-width="1.85"/>
<path d="M454.8 503.3H493.3" stroke="#000" stroke-width="2.7"/>
<text x="475.75" y="498.5" font-size="13.5" font-weight="700" text-anchor="middle" style="stroke-width:.25px">*</text>
<circle cx="647.5" cy="490.75" r="3.7"/>
<rect x="644.05" y="509.8" width="6.9" height="6.9" fill="none" stroke="#000" stroke-width="1.9"/>
<text font-size="14.4" transform="translate(667.5 495.7) scale(0.925 1)">PI</text>
<text font-size="14.4" transform="translate(667.5 518.2) scale(0.925 1)">Control</text>
<path d="M36.25 729.15V899.25M35 898H299.5M28.75 898H36.25M28.75 864.48H36.25M28.75 830.96H36.25M28.75 797.44H36.25M28.75 763.92H36.25M28.75 730.4H36.25M96.25 898V905.5M236.25 898V905.5" stroke="#000" stroke-width="2.5" fill="none"/>
<text x="26.55" y="902.4" font-size="12.3" font-weight="700" text-anchor="end">0</text>
<text x="26.55" y="868.88" font-size="12.3" font-weight="700" text-anchor="end">1</text>
<text x="26.55" y="835.36" font-size="12.3" font-weight="700" text-anchor="end">2</text>
<text x="26.55" y="801.84" font-size="12.3" font-weight="700" text-anchor="end">3</text>
<text x="26.55" y="768.32" font-size="12.3" font-weight="700" text-anchor="end">4</text>
<text x="26.55" y="734.8" font-size="12.3" font-weight="700" text-anchor="end">5</text>
<text x="10.6" y="898" font-size="13.8" font-weight="700" transform="rotate(-90 10.6 898)" textLength="166" lengthAdjust="spacingAndGlyphs">Frequency of IFN-γ+ cells</text>
<text x="96.9" y="919.6" font-size="12.7" font-weight="700" text-anchor="middle">Decidua</text>
<text x="236.5" y="919.6" font-size="12.7" font-weight="700" text-anchor="middle">PBMC</text>
<rect x="53.75" y="826.25" width="33" height="71.75" fill="#fff" stroke="#000" stroke-width="2.5"/>
<rect x="106.25" y="832.5" width="33.25" height="65.5" fill="#fff" stroke="#000" stroke-width="2.5"/>
<rect x="194.25" y="811.75" width="32.5" height="86.25" fill="#fff" stroke="#000" stroke-width="2.5"/>
<rect x="246.75" y="835.5" width="32.75" height="62.5" fill="#fff" stroke="#000" stroke-width="2.5"/>
<path d="M70.5 815.5V833.75M61.75 815.5H79.25M61.75 833.75H79.25" stroke="#000" stroke-width="1.3" fill="none"/>
<path d="M123 813V848.75M114.25 813H131.75M114.25 848.75H131.75" stroke="#000" stroke-width="1.3" fill="none"/>
<path d="M210.75 795V826.25M202 795H219.5M202 826.25H219.5" stroke="#000" stroke-width="1.3" fill="none"/>
<path d="M263.25 819.5V849.25M254.5 819.5H272M254.5 849.25H272" stroke="#000" stroke-width="1.3" fill="none"/>
<circle cx="56.25" cy="797.5" r="3.55"/>
<circle cx="70.5" cy="804.25" r="3.55"/>
<circle cx="84.5" cy="820.75" r="3.55"/>
<circle cx="70.5" cy="827.5" r="3.55"/>
<circle cx="70.5" cy="840" r="3.55"/>
<circle cx="70.5" cy="858.25" r="3.55"/>
<rect x="119.65" y="762.4" width="6.7" height="6.7" fill="none" stroke="#000" stroke-width="1.85"/>
<rect x="119.65" y="802.9" width="6.7" height="6.7" fill="none" stroke="#000" stroke-width="1.85"/>
<rect x="119.65" y="819.9" width="6.7" height="6.7" fill="none" stroke="#000" stroke-width="1.85"/>
<rect x="119.65" y="836.65" width="6.7" height="6.7" fill="none" stroke="#000" stroke-width="1.85"/>
<rect x="119.65" y="851.15" width="6.7" height="6.7" fill="none" stroke="#000" stroke-width="1.85"/>
<rect x="119.65" y="891.65" width="6.7" height="6.7" fill="none" stroke="#000" stroke-width="1.85"/>
<circle cx="210.75" cy="754.25" r="3.55"/>
<circle cx="210.75" cy="794.5" r="3.55"/>
<circle cx="224.5" cy="804.25" r="3.55"/>
<circle cx="210.75" cy="810.5" r="3.55"/>
<circle cx="210.75" cy="833.75" r="3.55"/>
<circle cx="210.75" cy="868" r="3.55"/>
<rect x="274.15" y="792.4" width="6.7" height="6.7" fill="none" stroke="#000" stroke-width="1.85"/>
<rect x="259.9" y="798.4" width="6.7" height="6.7" fill="none" stroke="#000" stroke-width="1.85"/>
<rect x="259.9" y="806.65" width="6.7" height="6.7" fill="none" stroke="#000" stroke-width="1.85"/>
<rect x="259.9" y="846.65" width="6.7" height="6.7" fill="none" stroke="#000" stroke-width="1.85"/>
<rect x="274.15" y="867.15" width="6.7" height="6.7" fill="none" stroke="#000" stroke-width="1.85"/>
<rect x="259.9" y="874.15" width="6.7" height="6.7" fill="none" stroke="#000" stroke-width="1.85"/>
<path d="M73.2 737.1H113.4" stroke="#000" stroke-width="2.0"/>
<text x="93.7" y="732.4" font-size="16.6" text-anchor="middle" style="stroke-width:.38px">ns</text>
<path d="M220.7 736.7H261.1" stroke="#000" stroke-width="2.0"/>
<text x="237.6" y="732.4" font-size="14.4" text-anchor="middle" style="stroke-width:.38px">ns</text>
<circle cx="295" cy="711.25" r="3.7"/>
<rect x="291.55" y="730.8" width="6.9" height="6.9" fill="none" stroke="#000" stroke-width="1.9"/>
<text font-size="14.4" transform="translate(314.5 716.2) scale(0.925 1)">Trophoblast</text>
<text font-size="14.4" transform="translate(314.5 739.2) scale(0.925 1)">Control</text>
<path d="M433 727V897.25M431.75 896H697.25M425.5 896H433M425.5 862.45H433M425.5 828.9H433M425.5 795.35H433M425.5 761.8H433M425.5 728.25H433M494.25 896V903.5M633.75 896V903.5" stroke="#000" stroke-width="2.5" fill="none"/>
<text x="423.3" y="900.4" font-size="12.3" font-weight="700" text-anchor="end">0</text>
<text x="423.3" y="866.85" font-size="12.3" font-weight="700" text-anchor="end">20</text>
<text x="423.3" y="833.3" font-size="12.3" font-weight="700" text-anchor="end">40</text>
<text x="423.3" y="799.75" font-size="12.3" font-weight="700" text-anchor="end">60</text>
<text x="423.3" y="766.2" font-size="12.3" font-weight="700" text-anchor="end">80</text>
<text x="423.3" y="732.65" font-size="12.3" font-weight="700" text-anchor="end">100</text>
<text x="393.6" y="896.2" font-size="13.8" font-weight="700" transform="rotate(-90 393.6 896.2)" textLength="168" lengthAdjust="spacingAndGlyphs">Frequency of CD69+ cells</text>
<text x="494.4" y="917.2" font-size="12.7" font-weight="700" text-anchor="middle">Decidua</text>
<text x="634.4" y="917.2" font-size="12.7" font-weight="700" text-anchor="middle">PBMC</text>
<rect x="452" y="777.5" width="32.5" height="118.5" fill="#fff" stroke="#000" stroke-width="2.5"/>
<rect x="504.25" y="771.25" width="32.5" height="124.75" fill="#fff" stroke="#000" stroke-width="2.5"/>
<rect x="592" y="891.25" width="32.5" height="4.75" fill="#fff" stroke="#000" stroke-width="2.5"/>
<rect x="643.5" y="891.25" width="33.75" height="4.75" fill="#fff" stroke="#000" stroke-width="2.5"/>
<path d="M468.25 770V782.5M459.5 770H477M459.5 782.5H477" stroke="#000" stroke-width="1.3" fill="none"/>
<path d="M520.5 763.75V774.5M511.75 763.75H529.25M511.75 774.5H529.25" stroke="#000" stroke-width="1.3" fill="none"/>
<path d="M608.5 887.5V892.5M599.75 887.5H617.25M599.75 892.5H617.25" stroke="#000" stroke-width="1.3" fill="none"/>
<path d="M660.5 888V892M651.75 888H669.25M651.75 892H669.25" stroke="#000" stroke-width="1.3" fill="none"/>
<circle cx="468.25" cy="753.25" r="3.55"/>
<circle cx="468.25" cy="764.25" r="3.55"/>
<circle cx="454.25" cy="776.75" r="3.55"/>
<circle cx="482.5" cy="780" r="3.55"/>
<circle cx="468.25" cy="786.25" r="3.55"/>
<circle cx="468.25" cy="796.75" r="3.55"/>
<rect x="503.4" y="756.65" width="6.7" height="6.7" fill="none" stroke="#000" stroke-width="1.85"/>
<rect x="503.4" y="762.9" width="6.7" height="6.7" fill="none" stroke="#000" stroke-width="1.85"/>
<rect x="517.15" y="760.9" width="6.7" height="6.7" fill="none" stroke="#000" stroke-width="1.85"/>
<rect x="531.65" y="754.65" width="6.7" height="6.7" fill="none" stroke="#000" stroke-width="1.85"/>
<rect x="531.65" y="761.65" width="6.7" height="6.7" fill="none" stroke="#000" stroke-width="1.85"/>
<rect x="517.15" y="792.9" width="6.7" height="6.7" fill="none" stroke="#000" stroke-width="1.85"/>
<circle cx="594.25" cy="886.75" r="3.55"/>
<circle cx="612.5" cy="881.25" r="3.55"/>
<circle cx="603.75" cy="891.5" r="3.55"/>
<circle cx="612.5" cy="891.5" r="3.55"/>
<circle cx="598" cy="892" r="3.55"/>
<circle cx="621" cy="892" r="3.55"/>
<rect x="650.15" y="885.9" width="6.7" height="6.7" fill="none" stroke="#000" stroke-width="1.85"/>
<rect x="671.4" y="883.4" width="6.7" height="6.7" fill="none" stroke="#000" stroke-width="1.85"/>
<rect x="671.4" y="892.15" width="6.7" height="6.7" fill="none" stroke="#000" stroke-width="1.85"/>
<rect x="643.4" y="888.65" width="6.7" height="6.7" fill="none" stroke="#000" stroke-width="1.85"/>
<rect x="657.15" y="888.15" width="6.7" height="6.7" fill="none" stroke="#000" stroke-width="1.85"/>
<rect x="664.15" y="888.15" width="6.7" height="6.7" fill="none" stroke="#000" stroke-width="1.85"/>
<path d="M471.2 734.7H511.4" stroke="#000" stroke-width="2.0"/>
<text x="491.1" y="730.1" font-size="16.6" text-anchor="middle" style="stroke-width:.38px">ns</text>
<path d="M618.7 733.9H658.9" stroke="#000" stroke-width="2.0"/>
<text x="635" y="730.1" font-size="14.4" text-anchor="middle" style="stroke-width:.38px">ns</text>
<circle cx="692.5" cy="708.75" r="3.7"/>
<rect x="689.05" y="728.3" width="6.9" height="6.9" fill="none" stroke="#000" stroke-width="1.9"/>
<text font-size="14.4" transform="translate(712.25 713.7) scale(0.925 1)">Trophoblast</text>
<text font-size="14.4" transform="translate(712.25 736.7) scale(0.925 1)">Control</text>
<circle cx="127.7" cy="272.4" r=".55" fill="#777"/><circle cx="128.6" cy="471.8" r=".55" fill="#777"/>
</svg>
</body></html>
